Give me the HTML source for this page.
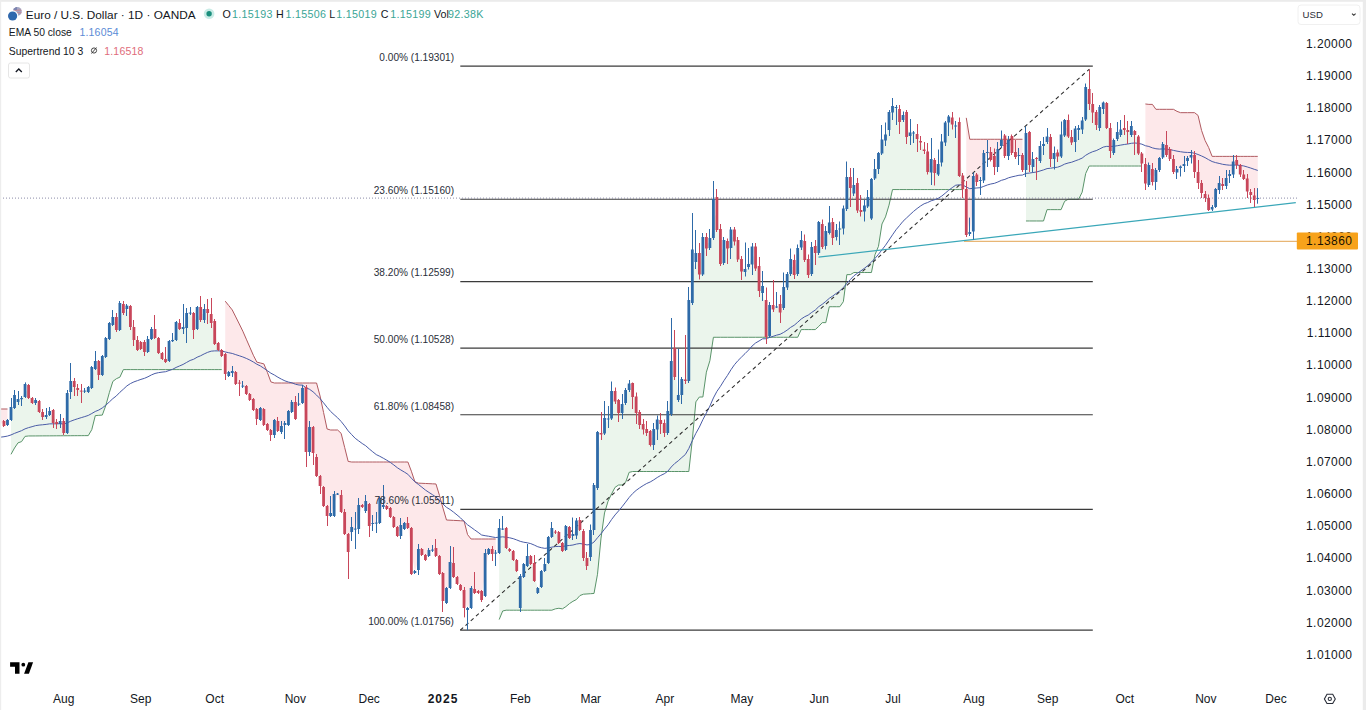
<!DOCTYPE html>
<html><head><meta charset="utf-8"><style>
html,body{margin:0;padding:0;background:#fff;width:1366px;height:710px;overflow:hidden}
svg{position:absolute;left:0;top:0;font-family:"Liberation Sans",sans-serif}
</style></head><body>
<svg width="1366" height="710" viewBox="0 0 1366 710">
<rect width="1366" height="710" fill="#fff"/>
<polygon points="0.47,409 3.98,409 7.49,409 7.49,422.5 3.98,423.5 0.47,423.5" fill="#fde8ea"/>
<polygon points="11.01,454.33 14.52,448.01 18.03,442.82 21.54,441.64 25.05,436.37 28.57,435.98 32.08,435.96 35.59,435.94 39.1,435.92 42.61,435.89 46.13,435.87 49.64,435.85 53.15,435.83 56.66,435.81 60.17,435.79 63.69,435.76 67.2,435.74 70.71,435.72 74.22,435.7 77.73,435.68 81.25,435.66 84.76,435.63 88.27,435.61 91.78,429.67 95.29,415.62 98.81,415.34 102.32,415.07 105.83,405.39 109.34,392.67 112.85,381.43 116.37,378.69 119.88,377.18 123.39,369.6 126.9,369.6 130.41,369.6 133.93,369.6 137.44,369.6 140.95,369.6 144.46,369.6 147.97,369.6 151.49,369.6 155,369.6 158.51,369.6 162.02,369.6 165.53,369.6 169.05,369.6 172.56,369.6 176.07,369.6 179.58,369.6 183.09,369.6 186.61,369.6 190.12,369.6 193.63,369.6 197.14,369.6 200.65,369.6 204.17,369.6 207.68,369.6 211.19,369.6 214.7,369.6 218.21,369.6 221.73,369.6 221.73,353 218.21,346.5 214.7,332.5 211.19,318.5 207.68,311 204.17,314.5 200.65,313.5 197.14,318 193.63,321.5 190.12,313.1 186.61,320.5 183.09,328 179.58,326 176.07,331 172.56,340.6 169.05,351 165.53,360.5 162.02,356 158.51,345.5 155,333.5 151.49,334 147.97,345.5 144.46,347 140.95,345.5 137.44,345 133.93,333.5 130.41,316.5 126.9,307.3 123.39,308.5 119.88,316.5 116.37,323.5 112.85,321 109.34,331 105.83,347.5 102.32,365.5 98.81,368 95.29,365 91.78,377.5 88.27,389.5 84.76,391 81.25,391 77.73,389 74.22,384 70.71,386.5 67.2,413 63.69,427 60.17,422.5 56.66,423 53.15,416.5 49.64,413 46.13,416 42.61,414.5 39.1,406.5 35.59,401.5 32.08,400.5 28.57,391.5 25.05,390.5 21.54,398.6 18.03,400.5 14.52,401.5 11.01,413.5" fill="#ebf5ec"/>
<polygon points="225.24,301.17 228.75,305.56 232.26,309.95 235.77,316.95 239.29,323.97 242.8,331.14 246.31,339.17 249.82,347.19 253.33,355.22 256.85,362.14 260.36,363.01 263.87,363.89 267.38,372.37 270.89,381.9 274.41,383 277.92,383 281.43,383 284.94,383 288.45,383 291.97,383 295.48,383 298.99,383 302.5,383 306.01,383 309.53,383 313.04,383 316.55,383 320.06,395.98 323.57,412.49 327.09,428.99 330.6,430 334.11,430 337.62,430 341.13,433.34 344.65,447.38 348.16,461.43 351.67,462 355.18,462 358.69,462 362.21,462 365.72,462 369.23,462 372.74,462 376.25,462 379.77,462 383.28,462 386.79,462 390.3,462 393.81,462 397.33,462 400.84,462 404.35,462 407.86,462 411.37,471.22 414.89,481.76 418.4,483.15 421.91,483.31 425.42,483.48 428.93,483.65 432.45,483.82 435.96,483.98 439.47,495.41 442.98,508.06 446.49,520.01 450.01,520.2 453.52,520.38 457.03,520.56 460.54,520.75 464.05,520.93 467.57,534.6 471.08,539 474.59,539 478.1,539 481.61,539 485.13,539 488.64,539 492.15,539 495.66,539 495.66,553.1 492.15,551.5 488.64,551.5 485.13,574.5 481.61,595.5 478.1,592 474.59,591 471.08,598 467.57,609 464.05,599 460.54,587.5 457.03,580.5 453.52,570 450.01,575 446.49,595.5 442.98,587 439.47,565 435.96,552 432.45,550.1 428.93,553 425.42,557.5 421.91,552 418.4,559.5 414.89,572 411.37,551 407.86,525.5 404.35,526 400.84,530.5 397.33,531.5 393.81,522 390.3,512.5 386.79,507.5 383.28,506 379.77,510.5 376.25,523.1 372.74,523.5 369.23,515 365.72,506 362.21,506 358.69,517 355.18,529.1 351.67,529.5 348.16,543 344.65,523 341.13,503.5 337.62,494.1 334.11,505 330.6,514.5 327.09,511 323.57,496.5 320.06,481 316.55,466.5 313.04,440 309.53,439.5 306.01,419.5 302.5,395.5 298.99,404.1 295.48,410.5 291.97,407 288.45,418 284.94,424 281.43,429 277.92,426 274.41,427.5 270.89,432.5 267.38,427 263.87,417 260.36,414 256.85,414 253.33,404.5 249.82,397 246.31,390 242.8,386 239.29,383 235.77,378 232.26,372 228.75,374 225.24,364" fill="#fde8ea"/>
<polygon points="499.17,619.57 502.69,610.97 506.2,610.2 509.71,610.2 513.22,610.2 516.73,610.2 520.25,610.2 523.76,610.2 527.27,610.2 530.78,610.2 534.29,610.2 537.81,610.2 541.32,610.2 544.83,610.2 548.34,610.2 551.85,610.2 555.37,608.85 558.88,608.27 562.39,608.88 565.9,606.62 569.41,603.65 572.93,601.32 576.44,599.53 579.95,595.56 583.46,594.21 586.97,593.96 590.49,593.71 594,593.45 597.51,574.23 601.02,538.1 604.53,512.94 608.05,501.22 611.56,493.94 615.07,487.32 618.58,485 622.09,485 625.61,482.36 629.12,472.36 632.63,471.5 636.14,471.5 639.65,471.5 643.17,471.5 646.68,471.5 650.19,471.5 653.7,471.5 657.21,471.5 660.73,471.5 664.24,471.5 667.75,471.5 671.26,471.5 674.77,471.5 678.29,471.5 681.8,471.5 685.31,471.5 688.82,471.5 692.33,439.63 695.85,401.88 699.36,397 702.87,397 706.38,372.15 709.89,360.68 713.41,337.27 716.92,337.27 720.43,337.27 723.94,337.27 727.45,337.27 730.97,337.27 734.48,337.27 737.99,337.27 741.5,337.27 745.01,337.27 748.53,337.27 752.04,337.27 755.55,337.27 759.06,337.27 762.57,337.27 766.09,337.27 769.6,337.27 773.11,337.27 776.62,337.27 780.13,337.27 783.65,337.27 787.16,337.27 790.67,337.27 794.18,337.27 797.69,337.27 801.21,329.58 804.72,329.58 808.23,329.58 811.74,329.58 815.25,329.58 818.77,326.36 822.28,322.63 825.79,322.63 829.3,306.73 832.81,306.73 836.33,306.73 839.84,306.73 843.35,301.7 846.86,274.63 850.37,274.63 853.89,272.52 857.4,272.52 860.91,272.52 864.42,272.52 867.93,272.52 871.45,272.52 874.96,254.75 878.47,246.33 881.98,223.99 885.49,216.9 889.01,205.18 892.52,189.56 896.03,189.56 899.54,189.56 903.05,189.56 906.57,189.56 910.08,189.56 913.59,189.56 917.1,189.56 920.61,189.56 924.13,189.56 927.64,189.56 931.15,189.56 934.66,189.56 938.17,189.56 941.69,189.56 945.2,189.56 948.71,189.56 952.22,189.56 955.73,189.56 959.25,189.56 962.76,189.56 962.76,182.4 959.25,149 955.73,126 952.22,121 948.71,119.5 945.2,132.5 941.69,152 938.17,169.25 934.66,166.5 931.15,165.75 927.64,161.75 924.13,150.25 920.61,141.75 917.1,136.5 913.59,133 910.08,134.25 906.57,124.5 903.05,117.5 899.54,115.5 896.03,107.5 892.52,109.25 889.01,121 885.49,137.5 881.98,146.5 878.47,161 874.96,173.75 871.45,198.75 867.93,201.75 864.42,208.5 860.91,211 857.4,196.75 853.89,189.25 850.37,182.5 846.86,193 843.35,218.5 839.84,229 836.33,233.5 832.81,230 829.3,227.75 825.79,238.5 822.28,235.5 818.77,237.5 815.25,249.5 811.74,260.5 808.23,267 804.72,250.5 801.21,243.75 797.69,261 794.18,267.5 790.67,266.5 787.16,280.75 783.65,297.5 780.13,308.25 776.62,307 773.11,307.25 769.6,320.5 766.09,318.5 762.57,289.5 759.06,278.5 755.55,257.5 752.04,255.5 748.53,265.5 745.01,270.5 741.5,265.25 737.99,249.75 734.48,235.5 730.97,238.75 727.45,244.75 723.94,251.5 720.43,246.5 716.92,213.5 713.41,218.5 709.89,243 706.38,242.75 702.87,255.75 699.36,263.75 695.85,257.5 692.33,276.25 688.82,340.5 685.31,380.25 681.8,387 678.29,397.5 674.77,362.5 671.26,387.5 667.75,422 664.24,428 660.73,422 657.21,424.5 653.7,437 650.19,438 646.68,431 643.17,426.75 639.65,418.5 636.14,404.75 632.63,390 629.12,386.75 625.61,396.5 622.09,408.5 618.58,406.5 615.07,396.25 611.56,404.75 608.05,419 604.53,425.75 601.02,433.75 597.51,460 594,507.5 590.49,543.5 586.97,562 583.46,544.5 579.95,525 576.44,528 572.93,535 569.41,532.5 565.9,538 562.39,547 558.88,537.5 555.37,532.1 551.85,532.5 548.34,550 544.83,567.5 541.32,579 537.81,590.5 534.29,572 530.78,560 527.27,561 523.76,570.5 520.25,592 516.73,565.5 513.22,555.5 509.71,550 506.2,538 502.69,529.1 499.17,540.5" fill="#ebf5ec"/>
<polygon points="966.27,117.87 969.78,139.27 973.29,139.27 976.81,139.27 980.32,139.27 983.83,139.27 987.34,139.27 990.85,139.27 994.37,139.27 997.88,139.27 1001.39,139.27 1004.9,139.27 1008.41,139.27 1011.93,139.27 1015.44,139.27 1018.95,139.27 1022.46,139.27 1022.46,162.5 1018.95,155.5 1015.44,154.5 1011.93,144.5 1008.41,148 1004.9,145.75 1001.39,143 997.88,158 994.37,161.5 990.85,156 987.34,152.5 983.83,166.75 980.32,180.5 976.81,178.25 973.29,203.75 969.78,233 966.27,212" fill="#fde8ea"/>
<polygon points="1025.97,220.98 1029.49,220.98 1033,220.98 1036.51,220.98 1040.02,220.98 1043.53,220.98 1047.05,209.63 1050.56,209.63 1054.07,209.63 1057.58,209.63 1061.09,209.63 1064.61,201.3 1068.12,199.27 1071.63,199.27 1075.14,199.27 1078.65,199.27 1082.17,192.15 1085.68,173.49 1089.19,166.02 1092.7,166.02 1096.21,166.02 1099.73,166.02 1103.24,166.02 1106.75,166.02 1110.26,166.02 1113.77,166.02 1117.29,166.02 1120.8,166.02 1124.31,166.02 1127.82,166.02 1131.33,166.02 1134.85,166.02 1138.36,166.02 1141.87,166.02 1141.87,158.5 1138.36,145 1134.85,133 1131.33,130.5 1127.82,131 1124.31,129 1120.8,132.25 1117.29,135.5 1113.77,146.5 1110.26,139.5 1106.75,115.5 1103.24,105.75 1099.73,117.5 1096.21,118.5 1092.7,108.25 1089.19,96.5 1085.68,103.25 1082.17,125 1078.65,129 1075.14,135.25 1071.63,139.75 1068.12,128.25 1064.61,127.75 1061.09,145.5 1057.58,154.5 1054.07,156 1050.56,148 1047.05,139.25 1043.53,145 1040.02,153.5 1036.51,158.5 1033,163 1029.49,148.5 1025.97,151.5" fill="#ebf5ec"/>
<polygon points="1145.38,103.97 1148.89,104.38 1152.41,104.38 1155.92,109.32 1159.43,109.32 1162.94,109.32 1166.45,109.32 1169.97,109.32 1173.48,109.32 1176.99,111.35 1180.5,112.66 1184.01,112.66 1187.53,112.66 1191.04,112.66 1194.55,112.66 1198.06,115.45 1201.57,130.45 1205.09,140.51 1208.6,147.41 1212.11,156.39 1215.62,156.39 1219.13,156.39 1222.65,156.39 1226.16,156.39 1229.67,156.39 1233.18,156.39 1236.69,156.39 1240.21,156.39 1243.72,156.39 1247.23,156.39 1250.74,156.39 1254.25,156.39 1257.77,156.39 1257.77,198.05 1254.25,197.75 1250.74,193.5 1247.23,185 1243.72,176.75 1240.21,169.75 1236.69,162.5 1233.18,168 1229.67,175 1226.16,182 1222.65,185 1219.13,186.5 1215.62,198 1212.11,208.25 1208.6,204 1205.09,196 1201.57,188 1198.06,177.5 1194.55,163.5 1191.04,156.25 1187.53,159.5 1184.01,165 1180.5,167.25 1176.99,170.75 1173.48,165.5 1169.97,154 1166.45,150 1162.94,150.75 1159.43,164 1155.92,176 1152.41,175.5 1148.89,175 1145.38,173.75" fill="#fde8ea"/>
<polyline points="0.47,409 3.98,409 7.49,409" fill="none" stroke="#b05a60" stroke-width="1"/>
<polyline points="11.01,454.33 14.52,448.01 18.03,442.82 21.54,441.64 25.05,436.37 28.57,435.98 32.08,435.96 35.59,435.94 39.1,435.92 42.61,435.89 46.13,435.87 49.64,435.85 53.15,435.83 56.66,435.81 60.17,435.79 63.69,435.76 67.2,435.74 70.71,435.72 74.22,435.7 77.73,435.68 81.25,435.66 84.76,435.63 88.27,435.61 91.78,429.67 95.29,415.62 98.81,415.34 102.32,415.07 105.83,405.39 109.34,392.67 112.85,381.43 116.37,378.69 119.88,377.18 123.39,369.6 126.9,369.6 130.41,369.6 133.93,369.6 137.44,369.6 140.95,369.6 144.46,369.6 147.97,369.6 151.49,369.6 155,369.6 158.51,369.6 162.02,369.6 165.53,369.6 169.05,369.6 172.56,369.6 176.07,369.6 179.58,369.6 183.09,369.6 186.61,369.6 190.12,369.6 193.63,369.6 197.14,369.6 200.65,369.6 204.17,369.6 207.68,369.6 211.19,369.6 214.7,369.6 218.21,369.6 221.73,369.6" fill="none" stroke="#5a946a" stroke-width="1"/>
<polyline points="225.24,301.17 228.75,305.56 232.26,309.95 235.77,316.95 239.29,323.97 242.8,331.14 246.31,339.17 249.82,347.19 253.33,355.22 256.85,362.14 260.36,363.01 263.87,363.89 267.38,372.37 270.89,381.9 274.41,383 277.92,383 281.43,383 284.94,383 288.45,383 291.97,383 295.48,383 298.99,383 302.5,383 306.01,383 309.53,383 313.04,383 316.55,383 320.06,395.98 323.57,412.49 327.09,428.99 330.6,430 334.11,430 337.62,430 341.13,433.34 344.65,447.38 348.16,461.43 351.67,462 355.18,462 358.69,462 362.21,462 365.72,462 369.23,462 372.74,462 376.25,462 379.77,462 383.28,462 386.79,462 390.3,462 393.81,462 397.33,462 400.84,462 404.35,462 407.86,462 411.37,471.22 414.89,481.76 418.4,483.15 421.91,483.31 425.42,483.48 428.93,483.65 432.45,483.82 435.96,483.98 439.47,495.41 442.98,508.06 446.49,520.01 450.01,520.2 453.52,520.38 457.03,520.56 460.54,520.75 464.05,520.93 467.57,534.6 471.08,539 474.59,539 478.1,539 481.61,539 485.13,539 488.64,539 492.15,539 495.66,539" fill="none" stroke="#b05a60" stroke-width="1"/>
<polyline points="499.17,619.57 502.69,610.97 506.2,610.2 509.71,610.2 513.22,610.2 516.73,610.2 520.25,610.2 523.76,610.2 527.27,610.2 530.78,610.2 534.29,610.2 537.81,610.2 541.32,610.2 544.83,610.2 548.34,610.2 551.85,610.2 555.37,608.85 558.88,608.27 562.39,608.88 565.9,606.62 569.41,603.65 572.93,601.32 576.44,599.53 579.95,595.56 583.46,594.21 586.97,593.96 590.49,593.71 594,593.45 597.51,574.23 601.02,538.1 604.53,512.94 608.05,501.22 611.56,493.94 615.07,487.32 618.58,485 622.09,485 625.61,482.36 629.12,472.36 632.63,471.5 636.14,471.5 639.65,471.5 643.17,471.5 646.68,471.5 650.19,471.5 653.7,471.5 657.21,471.5 660.73,471.5 664.24,471.5 667.75,471.5 671.26,471.5 674.77,471.5 678.29,471.5 681.8,471.5 685.31,471.5 688.82,471.5 692.33,439.63 695.85,401.88 699.36,397 702.87,397 706.38,372.15 709.89,360.68 713.41,337.27 716.92,337.27 720.43,337.27 723.94,337.27 727.45,337.27 730.97,337.27 734.48,337.27 737.99,337.27 741.5,337.27 745.01,337.27 748.53,337.27 752.04,337.27 755.55,337.27 759.06,337.27 762.57,337.27 766.09,337.27 769.6,337.27 773.11,337.27 776.62,337.27 780.13,337.27 783.65,337.27 787.16,337.27 790.67,337.27 794.18,337.27 797.69,337.27 801.21,329.58 804.72,329.58 808.23,329.58 811.74,329.58 815.25,329.58 818.77,326.36 822.28,322.63 825.79,322.63 829.3,306.73 832.81,306.73 836.33,306.73 839.84,306.73 843.35,301.7 846.86,274.63 850.37,274.63 853.89,272.52 857.4,272.52 860.91,272.52 864.42,272.52 867.93,272.52 871.45,272.52 874.96,254.75 878.47,246.33 881.98,223.99 885.49,216.9 889.01,205.18 892.52,189.56 896.03,189.56 899.54,189.56 903.05,189.56 906.57,189.56 910.08,189.56 913.59,189.56 917.1,189.56 920.61,189.56 924.13,189.56 927.64,189.56 931.15,189.56 934.66,189.56 938.17,189.56 941.69,189.56 945.2,189.56 948.71,189.56 952.22,189.56 955.73,189.56 959.25,189.56 962.76,189.56" fill="none" stroke="#5a946a" stroke-width="1"/>
<polyline points="966.27,117.87 969.78,139.27 973.29,139.27 976.81,139.27 980.32,139.27 983.83,139.27 987.34,139.27 990.85,139.27 994.37,139.27 997.88,139.27 1001.39,139.27 1004.9,139.27 1008.41,139.27 1011.93,139.27 1015.44,139.27 1018.95,139.27 1022.46,139.27" fill="none" stroke="#b05a60" stroke-width="1"/>
<polyline points="1025.97,220.98 1029.49,220.98 1033,220.98 1036.51,220.98 1040.02,220.98 1043.53,220.98 1047.05,209.63 1050.56,209.63 1054.07,209.63 1057.58,209.63 1061.09,209.63 1064.61,201.3 1068.12,199.27 1071.63,199.27 1075.14,199.27 1078.65,199.27 1082.17,192.15 1085.68,173.49 1089.19,166.02 1092.7,166.02 1096.21,166.02 1099.73,166.02 1103.24,166.02 1106.75,166.02 1110.26,166.02 1113.77,166.02 1117.29,166.02 1120.8,166.02 1124.31,166.02 1127.82,166.02 1131.33,166.02 1134.85,166.02 1138.36,166.02 1141.87,166.02" fill="none" stroke="#5a946a" stroke-width="1"/>
<polyline points="1145.38,103.97 1148.89,104.38 1152.41,104.38 1155.92,109.32 1159.43,109.32 1162.94,109.32 1166.45,109.32 1169.97,109.32 1173.48,109.32 1176.99,111.35 1180.5,112.66 1184.01,112.66 1187.53,112.66 1191.04,112.66 1194.55,112.66 1198.06,115.45 1201.57,130.45 1205.09,140.51 1208.6,147.41 1212.11,156.39 1215.62,156.39 1219.13,156.39 1222.65,156.39 1226.16,156.39 1229.67,156.39 1233.18,156.39 1236.69,156.39 1240.21,156.39 1243.72,156.39 1247.23,156.39 1250.74,156.39 1254.25,156.39 1257.77,156.39" fill="none" stroke="#b05a60" stroke-width="1"/>
<line x1="460.3" y1="66.12" x2="1092.8" y2="66.12" stroke="#3b3b3b" stroke-width="1.2"/>
<line x1="460.3" y1="199.26" x2="1092.8" y2="199.26" stroke="#3b3b3b" stroke-width="1.2"/>
<line x1="460.3" y1="281.59" x2="1092.8" y2="281.59" stroke="#3b3b3b" stroke-width="1.2"/>
<line x1="460.3" y1="348.17" x2="1092.8" y2="348.17" stroke="#3b3b3b" stroke-width="1.2"/>
<line x1="460.3" y1="414.73" x2="1092.8" y2="414.73" stroke="#3b3b3b" stroke-width="1.2"/>
<line x1="460.3" y1="509.47" x2="1092.8" y2="509.47" stroke="#3b3b3b" stroke-width="1.2"/>
<line x1="460.3" y1="630.19" x2="1092.8" y2="630.19" stroke="#3b3b3b" stroke-width="1.2"/>
<line x1="0" y1="198.1" x2="1297" y2="198.1" stroke="#8c8ca8" stroke-width="1" stroke-dasharray="1 2"/>
<polyline points="0.47,437.17 3.98,436.73 7.49,436.07 11.01,434.93 14.52,433.37 18.03,432.02 21.54,430.68 25.05,428.85 28.57,427.64 32.08,426.68 35.59,425.63 39.1,425.1 42.61,424.78 46.13,424.4 49.64,423.87 53.15,423.84 56.66,423.84 60.17,423.73 63.69,424.09 67.2,422.88 70.71,421.23 74.22,419.89 77.73,418.72 81.25,417.65 84.76,416.59 88.27,415.43 91.78,413.53 95.29,411.47 98.81,410.04 102.32,407.92 105.83,405.18 109.34,401.95 112.85,398.62 116.37,395.93 119.88,392.29 123.39,389.18 126.9,385.9 130.41,383.59 133.93,381.88 137.44,380.63 140.95,379.39 144.46,378.32 147.97,376.77 151.49,374.9 155,373.45 158.51,372.65 162.02,372.12 165.53,371.72 169.05,370.51 172.56,369.32 176.07,367.46 179.58,365.95 183.09,364.43 186.61,362.41 190.12,360.46 193.63,359.26 197.14,357.21 200.65,355.75 204.17,353.92 207.68,352.32 211.19,351.17 214.7,350.88 218.21,350.85 221.73,351.05 225.24,351.95 228.75,352.74 232.26,353.45 235.77,354.65 239.29,355.78 242.8,356.95 246.31,358.4 249.82,360.03 253.33,361.99 256.85,364.23 260.36,365.94 263.87,368.26 267.38,370.68 270.89,373.2 274.41,375.04 277.92,377.23 281.43,379.15 284.94,380.87 288.45,382.05 291.97,382.83 295.48,384.25 298.99,385.01 302.5,385.12 306.01,387.75 309.53,389.29 313.04,391.79 316.55,395.09 320.06,398.65 323.57,402.86 327.09,407.3 330.6,411.44 334.11,414.68 337.62,417.78 341.13,421.47 344.65,425.88 348.16,430.83 351.67,434.6 355.18,438.29 358.69,440.9 362.21,443.5 365.72,445.75 369.23,448.9 372.74,451.8 376.25,454.58 379.77,456.28 383.28,458.19 386.79,460.19 390.3,462.41 393.81,464.95 397.33,467.73 400.84,469.98 404.35,472.06 407.86,474.25 411.37,478.16 414.89,481.8 418.4,484.44 421.91,487.21 425.42,490.06 428.93,492.41 432.45,494.65 435.96,497.06 439.47,500.08 442.98,504.04 446.49,507.33 450.01,509.47 453.52,512.12 457.03,514.94 460.54,517.88 464.05,521.42 467.57,524.81 471.08,527.29 474.59,529.87 478.1,532.34 481.61,535 485.13,535.7 488.64,536.22 492.15,536.92 495.66,537.54 499.17,537.16 502.69,536.83 506.2,537.26 509.71,537.8 513.22,538.67 516.73,539.94 520.25,541.35 523.76,542.24 527.27,542.78 530.78,543.61 534.29,545.08 537.81,546.76 541.32,547.71 544.83,548.35 548.34,547.91 551.85,547.13 555.37,546.56 558.88,546.42 562.39,546.6 565.9,545.79 569.41,545.48 572.93,545.03 576.44,544.07 579.95,543.52 583.46,544.09 586.97,544.95 590.49,544.36 594,542.03 597.51,537.72 601.02,533.67 604.53,529.13 608.05,524.8 611.56,519.55 615.07,514.92 618.58,510.92 622.09,506.73 625.61,502.15 629.12,497.5 632.63,493.56 636.14,490.4 639.65,487.83 643.17,485.55 646.68,483.49 650.19,481.98 653.7,479.9 657.21,477.53 660.73,475.43 664.24,473.77 667.75,471.31 671.26,466.98 674.77,463.45 678.29,460.77 681.8,457.56 685.31,454.56 688.82,448.5 692.33,440.69 695.85,433.33 699.36,427.1 702.87,419.65 706.38,412.94 709.89,406.08 713.41,397.96 716.92,391.37 720.43,386.37 723.94,380.63 727.45,375.45 730.97,369.73 734.48,364.7 737.99,360.58 741.5,357.08 745.01,353.63 748.53,350.11 752.04,346.05 755.55,343.01 759.06,340.97 762.57,338.81 766.09,338.74 769.6,337.42 773.11,336.32 776.62,335.15 780.13,334.27 783.65,332.41 787.16,330.12 790.67,327.33 794.18,325.28 797.69,322.25 801.21,319.02 804.72,316.71 808.23,315.07 811.74,312.4 815.25,310.07 818.77,306.62 822.28,304.28 825.79,301.41 829.3,298.31 832.81,295.95 836.33,293.36 839.84,290.82 843.35,287.59 846.86,283.25 850.37,279.52 853.89,275.81 857.4,273.25 860.91,270.85 864.42,268.29 867.93,265.49 871.45,262.1 874.96,258.45 878.47,254.31 881.98,249.81 885.49,245.29 889.01,240.06 892.52,234.8 896.03,229.79 899.54,225.56 903.05,221.23 906.57,217.93 910.08,214.58 913.59,211.36 917.1,208.52 920.61,205.93 924.13,203.78 927.64,202.53 931.15,200.82 934.66,199.73 938.17,198.33 941.69,196.1 945.2,193.22 948.71,190.21 952.22,187.63 955.73,185.19 959.25,184.83 962.76,185.01 966.27,186.97 969.78,188.74 973.29,188.24 976.81,187.99 980.32,187.68 983.83,186.32 987.34,184.97 990.85,183.99 994.37,183.33 997.88,181.98 1001.39,180.33 1004.9,179.38 1008.41,177.84 1011.93,176.86 1015.44,176.08 1018.95,175.26 1022.46,175.05 1025.97,173.4 1029.49,173.07 1033,172.52 1036.51,171.99 1040.02,170.97 1043.53,169.91 1047.05,168.6 1050.56,168.23 1054.07,167.63 1057.58,167.19 1061.09,165.91 1064.61,164.11 1068.12,163.03 1071.63,162.22 1075.14,160.9 1078.65,159.61 1082.17,158.08 1085.68,155.29 1089.19,153.28 1092.7,151.68 1096.21,150.63 1099.73,148.92 1103.24,147.1 1106.75,146.35 1110.26,146.53 1113.77,146.28 1117.29,145.72 1120.8,145.08 1124.31,144.49 1127.82,144 1131.33,143.29 1134.85,142.97 1138.36,143.38 1141.87,144.17 1145.38,145.71 1148.89,146.47 1152.41,147.86 1155.92,148.73 1159.43,149.09 1162.94,148.89 1166.45,149.13 1169.97,149.52 1173.48,150.4 1176.99,151.13 1180.5,151.73 1184.01,152.22 1187.53,152.44 1191.04,152.54 1194.55,153.31 1198.06,154.47 1201.57,155.98 1205.09,157.63 1208.6,159.68 1212.11,161.54 1215.62,162.62 1219.13,163.41 1222.65,164.3 1226.16,164.84 1229.67,165.2 1233.18,165.05 1236.69,165.05 1240.21,165.42 1243.72,165.95 1247.23,166.95 1250.74,168.05 1254.25,169.31 1257.77,170.43" fill="none" stroke="#4a5ca6" stroke-width="1"/>
<line x1="964" y1="241.3" x2="1297" y2="241.3" stroke="#e3a453" stroke-width="1"/>
<line x1="818.5" y1="257.2" x2="1295.8" y2="202.6" stroke="#3aa7b8" stroke-width="1.2"/>
<line x1="460.3" y1="630.2" x2="1089.4" y2="69.1" stroke="#2a2a2a" stroke-width="1.05" stroke-dasharray="3.8 3.2"/>
<line x1="3.5" y1="420" x2="3.5" y2="427" stroke="#c8465a" stroke-width="1"/>
<rect x="2.58" y="421" width="2.8" height="5" fill="#c8465a"/>
<line x1="7.5" y1="419" x2="7.5" y2="426" stroke="#2e6aa8" stroke-width="1"/>
<rect x="6.09" y="420" width="2.8" height="5" fill="#2e6aa8"/>
<line x1="11.5" y1="398" x2="11.5" y2="421" stroke="#2e6aa8" stroke-width="1"/>
<rect x="9.61" y="407" width="2.8" height="13" fill="#2e6aa8"/>
<line x1="14.5" y1="390" x2="14.5" y2="409" stroke="#2e6aa8" stroke-width="1"/>
<rect x="13.12" y="395" width="2.8" height="13" fill="#2e6aa8"/>
<line x1="18.5" y1="391" x2="18.5" y2="405" stroke="#2e6aa8" stroke-width="1"/>
<rect x="16.63" y="399" width="2.8" height="3" fill="#2e6aa8"/>
<line x1="21.5" y1="396" x2="21.5" y2="406" stroke="#2e6aa8" stroke-width="1"/>
<rect x="20.14" y="398" width="2.8" height="1.2" fill="#2e6aa8"/>
<line x1="25.5" y1="382.4" x2="25.5" y2="398" stroke="#2e6aa8" stroke-width="1"/>
<rect x="23.65" y="384" width="2.8" height="13" fill="#2e6aa8"/>
<line x1="28.5" y1="384" x2="28.5" y2="399" stroke="#c8465a" stroke-width="1"/>
<rect x="27.17" y="385" width="2.8" height="13" fill="#c8465a"/>
<line x1="32.5" y1="397" x2="32.5" y2="404" stroke="#c8465a" stroke-width="1"/>
<rect x="30.68" y="398" width="2.8" height="5" fill="#c8465a"/>
<line x1="35.5" y1="398" x2="35.5" y2="405" stroke="#2e6aa8" stroke-width="1"/>
<rect x="34.19" y="400" width="2.8" height="3" fill="#2e6aa8"/>
<line x1="39.5" y1="400" x2="39.5" y2="413" stroke="#c8465a" stroke-width="1"/>
<rect x="37.7" y="401" width="2.8" height="11" fill="#c8465a"/>
<line x1="42.5" y1="409" x2="42.5" y2="420" stroke="#c8465a" stroke-width="1"/>
<rect x="41.21" y="412" width="2.8" height="5" fill="#c8465a"/>
<line x1="46.5" y1="408" x2="46.5" y2="419" stroke="#2e6aa8" stroke-width="1"/>
<rect x="44.73" y="415" width="2.8" height="2" fill="#2e6aa8"/>
<line x1="49.5" y1="407" x2="49.5" y2="416" stroke="#2e6aa8" stroke-width="1"/>
<rect x="48.24" y="411" width="2.8" height="4" fill="#2e6aa8"/>
<line x1="53.5" y1="409" x2="53.5" y2="428" stroke="#c8465a" stroke-width="1"/>
<rect x="51.75" y="410" width="2.8" height="13" fill="#c8465a"/>
<line x1="56.5" y1="419" x2="56.5" y2="429" stroke="#c8465a" stroke-width="1"/>
<rect x="55.26" y="422" width="2.8" height="2" fill="#c8465a"/>
<line x1="60.5" y1="414" x2="60.5" y2="428" stroke="#2e6aa8" stroke-width="1"/>
<rect x="58.77" y="421" width="2.8" height="3" fill="#2e6aa8"/>
<line x1="63.5" y1="418" x2="63.5" y2="435" stroke="#c8465a" stroke-width="1"/>
<rect x="62.29" y="421" width="2.8" height="12" fill="#c8465a"/>
<line x1="67.5" y1="390" x2="67.5" y2="434" stroke="#2e6aa8" stroke-width="1"/>
<rect x="65.8" y="393" width="2.8" height="40" fill="#2e6aa8"/>
<line x1="70.5" y1="363" x2="70.5" y2="399" stroke="#2e6aa8" stroke-width="1"/>
<rect x="69.31" y="381" width="2.8" height="11" fill="#2e6aa8"/>
<line x1="74.5" y1="378" x2="74.5" y2="396" stroke="#c8465a" stroke-width="1"/>
<rect x="72.82" y="381" width="2.8" height="6" fill="#c8465a"/>
<line x1="77.5" y1="384" x2="77.5" y2="396" stroke="#c8465a" stroke-width="1"/>
<rect x="76.33" y="388" width="2.8" height="2" fill="#c8465a"/>
<line x1="81.5" y1="384" x2="81.5" y2="403" stroke="#c8465a" stroke-width="1"/>
<rect x="79.85" y="390.6" width="2.8" height="1" fill="#c8465a"/>
<line x1="84.5" y1="388" x2="84.5" y2="393" stroke="#2e6aa8" stroke-width="1"/>
<rect x="83.36" y="390.6" width="2.8" height="1" fill="#2e6aa8"/>
<line x1="88.5" y1="386" x2="88.5" y2="393" stroke="#2e6aa8" stroke-width="1"/>
<rect x="86.87" y="387" width="2.8" height="5" fill="#2e6aa8"/>
<line x1="91.5" y1="366" x2="91.5" y2="389" stroke="#2e6aa8" stroke-width="1"/>
<rect x="90.38" y="367" width="2.8" height="21" fill="#2e6aa8"/>
<line x1="95.5" y1="351" x2="95.5" y2="370" stroke="#2e6aa8" stroke-width="1"/>
<rect x="93.89" y="361" width="2.8" height="8" fill="#2e6aa8"/>
<line x1="98.5" y1="360" x2="98.5" y2="380" stroke="#c8465a" stroke-width="1"/>
<rect x="97.41" y="361" width="2.8" height="14" fill="#c8465a"/>
<line x1="102.5" y1="355" x2="102.5" y2="376" stroke="#2e6aa8" stroke-width="1"/>
<rect x="100.92" y="356" width="2.8" height="19" fill="#2e6aa8"/>
<line x1="105.5" y1="337" x2="105.5" y2="358" stroke="#2e6aa8" stroke-width="1"/>
<rect x="104.43" y="338" width="2.8" height="19" fill="#2e6aa8"/>
<line x1="109.5" y1="322" x2="109.5" y2="340" stroke="#2e6aa8" stroke-width="1"/>
<rect x="107.94" y="323" width="2.8" height="16" fill="#2e6aa8"/>
<line x1="112.5" y1="310" x2="112.5" y2="326" stroke="#2e6aa8" stroke-width="1"/>
<rect x="111.45" y="317" width="2.8" height="8" fill="#2e6aa8"/>
<line x1="116.5" y1="313" x2="116.5" y2="332" stroke="#c8465a" stroke-width="1"/>
<rect x="114.97" y="317" width="2.8" height="13" fill="#c8465a"/>
<line x1="119.5" y1="301" x2="119.5" y2="331" stroke="#2e6aa8" stroke-width="1"/>
<rect x="118.48" y="303" width="2.8" height="27" fill="#2e6aa8"/>
<line x1="123.5" y1="301" x2="123.5" y2="315" stroke="#c8465a" stroke-width="1"/>
<rect x="121.99" y="304" width="2.8" height="9" fill="#c8465a"/>
<line x1="126.5" y1="304" x2="126.5" y2="316" stroke="#2e6aa8" stroke-width="1"/>
<rect x="125.5" y="305.6" width="2.8" height="3.4" fill="#2e6aa8"/>
<line x1="130.5" y1="305" x2="130.5" y2="330" stroke="#c8465a" stroke-width="1"/>
<rect x="129.01" y="306" width="2.8" height="21" fill="#c8465a"/>
<line x1="133.5" y1="320" x2="133.5" y2="346" stroke="#c8465a" stroke-width="1"/>
<rect x="132.53" y="327" width="2.8" height="13" fill="#c8465a"/>
<line x1="137.5" y1="336" x2="137.5" y2="351" stroke="#c8465a" stroke-width="1"/>
<rect x="136.04" y="340" width="2.8" height="10" fill="#c8465a"/>
<line x1="140.5" y1="341" x2="140.5" y2="350" stroke="#c8465a" stroke-width="1"/>
<rect x="139.55" y="342" width="2.8" height="7" fill="#c8465a"/>
<line x1="144.5" y1="340" x2="144.5" y2="356" stroke="#c8465a" stroke-width="1"/>
<rect x="143.06" y="342" width="2.8" height="10" fill="#c8465a"/>
<line x1="147.5" y1="336" x2="147.5" y2="353" stroke="#2e6aa8" stroke-width="1"/>
<rect x="146.57" y="339" width="2.8" height="13" fill="#2e6aa8"/>
<line x1="151.5" y1="327" x2="151.5" y2="340" stroke="#2e6aa8" stroke-width="1"/>
<rect x="150.09" y="329" width="2.8" height="10" fill="#2e6aa8"/>
<line x1="154.5" y1="315" x2="154.5" y2="339" stroke="#c8465a" stroke-width="1"/>
<rect x="153.6" y="329" width="2.8" height="9" fill="#c8465a"/>
<line x1="158.5" y1="337" x2="158.5" y2="354" stroke="#c8465a" stroke-width="1"/>
<rect x="157.11" y="338" width="2.8" height="15" fill="#c8465a"/>
<line x1="162.5" y1="352" x2="162.5" y2="360" stroke="#c8465a" stroke-width="1"/>
<rect x="160.62" y="353" width="2.8" height="6" fill="#c8465a"/>
<line x1="165.5" y1="347" x2="165.5" y2="363" stroke="#c8465a" stroke-width="1"/>
<rect x="164.13" y="359" width="2.8" height="3" fill="#c8465a"/>
<line x1="169.5" y1="340" x2="169.5" y2="362" stroke="#2e6aa8" stroke-width="1"/>
<rect x="167.65" y="341" width="2.8" height="20" fill="#2e6aa8"/>
<line x1="172.5" y1="333" x2="172.5" y2="342" stroke="#2e6aa8" stroke-width="1"/>
<rect x="171.16" y="340" width="2.8" height="1.2" fill="#2e6aa8"/>
<line x1="176.5" y1="321" x2="176.5" y2="341" stroke="#2e6aa8" stroke-width="1"/>
<rect x="174.67" y="322" width="2.8" height="18" fill="#2e6aa8"/>
<line x1="179.5" y1="319" x2="179.5" y2="330" stroke="#c8465a" stroke-width="1"/>
<rect x="178.18" y="323" width="2.8" height="6" fill="#c8465a"/>
<line x1="183.5" y1="304" x2="183.5" y2="334" stroke="#2e6aa8" stroke-width="1"/>
<rect x="181.69" y="327" width="2.8" height="2" fill="#2e6aa8"/>
<line x1="186.5" y1="308" x2="186.5" y2="343" stroke="#2e6aa8" stroke-width="1"/>
<rect x="185.21" y="313" width="2.8" height="15" fill="#2e6aa8"/>
<line x1="190.5" y1="307" x2="190.5" y2="315" stroke="#2e6aa8" stroke-width="1"/>
<rect x="188.72" y="312.6" width="2.8" height="1" fill="#2e6aa8"/>
<line x1="193.5" y1="312" x2="193.5" y2="339" stroke="#c8465a" stroke-width="1"/>
<rect x="192.23" y="313" width="2.8" height="17" fill="#c8465a"/>
<line x1="197.5" y1="306" x2="197.5" y2="330" stroke="#2e6aa8" stroke-width="1"/>
<rect x="195.74" y="307" width="2.8" height="22" fill="#2e6aa8"/>
<line x1="200.5" y1="296" x2="200.5" y2="322" stroke="#c8465a" stroke-width="1"/>
<rect x="199.25" y="307" width="2.8" height="13" fill="#c8465a"/>
<line x1="204.5" y1="304" x2="204.5" y2="323" stroke="#2e6aa8" stroke-width="1"/>
<rect x="202.77" y="309" width="2.8" height="11" fill="#2e6aa8"/>
<line x1="207.5" y1="299" x2="207.5" y2="324" stroke="#c8465a" stroke-width="1"/>
<rect x="206.28" y="309" width="2.8" height="4" fill="#c8465a"/>
<line x1="211.5" y1="298" x2="211.5" y2="328" stroke="#c8465a" stroke-width="1"/>
<rect x="209.79" y="314" width="2.8" height="9" fill="#c8465a"/>
<line x1="214.5" y1="319" x2="214.5" y2="345" stroke="#c8465a" stroke-width="1"/>
<rect x="213.3" y="321" width="2.8" height="23" fill="#c8465a"/>
<line x1="218.5" y1="342" x2="218.5" y2="351" stroke="#c8465a" stroke-width="1"/>
<rect x="216.81" y="343" width="2.8" height="7" fill="#c8465a"/>
<line x1="221.5" y1="349" x2="221.5" y2="357" stroke="#c8465a" stroke-width="1"/>
<rect x="220.33" y="350" width="2.8" height="6" fill="#c8465a"/>
<line x1="225.5" y1="353" x2="225.5" y2="380" stroke="#c8465a" stroke-width="1"/>
<rect x="223.84" y="354" width="2.8" height="20" fill="#c8465a"/>
<line x1="228.5" y1="371" x2="228.5" y2="377" stroke="#2e6aa8" stroke-width="1"/>
<rect x="227.35" y="372" width="2.8" height="4" fill="#2e6aa8"/>
<line x1="232.5" y1="366" x2="232.5" y2="377" stroke="#2e6aa8" stroke-width="1"/>
<rect x="230.86" y="371" width="2.8" height="2" fill="#2e6aa8"/>
<line x1="235.5" y1="371" x2="235.5" y2="385" stroke="#c8465a" stroke-width="1"/>
<rect x="234.37" y="372" width="2.8" height="12" fill="#c8465a"/>
<line x1="239.5" y1="380" x2="239.5" y2="396" stroke="#c8465a" stroke-width="1"/>
<rect x="237.89" y="382.6" width="2.8" height="1" fill="#c8465a"/>
<line x1="242.5" y1="381" x2="242.5" y2="388" stroke="#2e6aa8" stroke-width="1"/>
<rect x="241.4" y="385.6" width="2.8" height="1" fill="#2e6aa8"/>
<line x1="246.5" y1="385" x2="246.5" y2="395" stroke="#c8465a" stroke-width="1"/>
<rect x="244.91" y="386" width="2.8" height="8" fill="#c8465a"/>
<line x1="249.5" y1="393" x2="249.5" y2="401" stroke="#c8465a" stroke-width="1"/>
<rect x="248.42" y="394" width="2.8" height="6" fill="#c8465a"/>
<line x1="253.5" y1="398" x2="253.5" y2="411" stroke="#c8465a" stroke-width="1"/>
<rect x="251.93" y="399" width="2.8" height="11" fill="#c8465a"/>
<line x1="256.5" y1="408" x2="256.5" y2="425" stroke="#c8465a" stroke-width="1"/>
<rect x="255.45" y="409" width="2.8" height="10" fill="#c8465a"/>
<line x1="260.5" y1="407" x2="260.5" y2="421" stroke="#2e6aa8" stroke-width="1"/>
<rect x="258.96" y="408" width="2.8" height="12" fill="#2e6aa8"/>
<line x1="263.5" y1="408" x2="263.5" y2="426" stroke="#c8465a" stroke-width="1"/>
<rect x="262.47" y="409" width="2.8" height="16" fill="#c8465a"/>
<line x1="267.5" y1="423" x2="267.5" y2="431" stroke="#c8465a" stroke-width="1"/>
<rect x="265.98" y="424" width="2.8" height="6" fill="#c8465a"/>
<line x1="270.5" y1="429" x2="270.5" y2="441" stroke="#c8465a" stroke-width="1"/>
<rect x="269.49" y="430" width="2.8" height="5" fill="#c8465a"/>
<line x1="274.5" y1="419" x2="274.5" y2="438" stroke="#2e6aa8" stroke-width="1"/>
<rect x="273.01" y="420" width="2.8" height="15" fill="#2e6aa8"/>
<line x1="277.5" y1="417" x2="277.5" y2="432" stroke="#c8465a" stroke-width="1"/>
<rect x="276.52" y="421" width="2.8" height="10" fill="#c8465a"/>
<line x1="281.5" y1="421" x2="281.5" y2="434" stroke="#2e6aa8" stroke-width="1"/>
<rect x="280.03" y="426" width="2.8" height="6" fill="#2e6aa8"/>
<line x1="284.5" y1="421" x2="284.5" y2="439" stroke="#2e6aa8" stroke-width="1"/>
<rect x="283.54" y="423" width="2.8" height="2" fill="#2e6aa8"/>
<line x1="288.5" y1="410" x2="288.5" y2="426" stroke="#2e6aa8" stroke-width="1"/>
<rect x="287.05" y="411" width="2.8" height="14" fill="#2e6aa8"/>
<line x1="291.5" y1="400" x2="291.5" y2="413" stroke="#2e6aa8" stroke-width="1"/>
<rect x="290.57" y="402" width="2.8" height="10" fill="#2e6aa8"/>
<line x1="295.5" y1="396" x2="295.5" y2="420" stroke="#c8465a" stroke-width="1"/>
<rect x="294.08" y="402" width="2.8" height="17" fill="#c8465a"/>
<line x1="298.5" y1="393" x2="298.5" y2="406" stroke="#2e6aa8" stroke-width="1"/>
<rect x="297.59" y="403.6" width="2.8" height="1" fill="#2e6aa8"/>
<line x1="302.5" y1="385" x2="302.5" y2="404" stroke="#2e6aa8" stroke-width="1"/>
<rect x="301.1" y="388" width="2.8" height="15" fill="#2e6aa8"/>
<line x1="306.5" y1="385" x2="306.5" y2="467" stroke="#c8465a" stroke-width="1"/>
<rect x="304.61" y="387" width="2.8" height="65" fill="#c8465a"/>
<line x1="309.5" y1="421" x2="309.5" y2="456" stroke="#2e6aa8" stroke-width="1"/>
<rect x="308.13" y="427" width="2.8" height="25" fill="#2e6aa8"/>
<line x1="313.5" y1="426" x2="313.5" y2="465" stroke="#c8465a" stroke-width="1"/>
<rect x="311.64" y="427" width="2.8" height="26" fill="#c8465a"/>
<line x1="316.5" y1="454" x2="316.5" y2="477" stroke="#c8465a" stroke-width="1"/>
<rect x="315.15" y="457" width="2.8" height="19" fill="#c8465a"/>
<line x1="320.5" y1="475" x2="320.5" y2="494" stroke="#c8465a" stroke-width="1"/>
<rect x="318.66" y="476" width="2.8" height="10" fill="#c8465a"/>
<line x1="323.5" y1="486" x2="323.5" y2="507" stroke="#c8465a" stroke-width="1"/>
<rect x="322.17" y="487" width="2.8" height="19" fill="#c8465a"/>
<line x1="327.5" y1="505" x2="327.5" y2="526" stroke="#c8465a" stroke-width="1"/>
<rect x="325.69" y="506" width="2.8" height="10" fill="#c8465a"/>
<line x1="330.5" y1="496" x2="330.5" y2="517" stroke="#2e6aa8" stroke-width="1"/>
<rect x="329.2" y="513" width="2.8" height="3" fill="#2e6aa8"/>
<line x1="334.5" y1="491" x2="334.5" y2="517" stroke="#2e6aa8" stroke-width="1"/>
<rect x="332.71" y="494" width="2.8" height="22" fill="#2e6aa8"/>
<line x1="337.5" y1="493" x2="337.5" y2="495" stroke="#2e6aa8" stroke-width="1"/>
<rect x="336.22" y="493.6" width="2.8" height="1" fill="#2e6aa8"/>
<line x1="341.5" y1="490" x2="341.5" y2="513" stroke="#c8465a" stroke-width="1"/>
<rect x="339.73" y="495" width="2.8" height="17" fill="#c8465a"/>
<line x1="344.5" y1="509" x2="344.5" y2="535" stroke="#c8465a" stroke-width="1"/>
<rect x="343.25" y="512" width="2.8" height="22" fill="#c8465a"/>
<line x1="348.5" y1="533" x2="348.5" y2="579" stroke="#c8465a" stroke-width="1"/>
<rect x="346.76" y="534" width="2.8" height="18" fill="#c8465a"/>
<line x1="351.5" y1="517" x2="351.5" y2="541" stroke="#2e6aa8" stroke-width="1"/>
<rect x="350.27" y="527" width="2.8" height="5" fill="#2e6aa8"/>
<line x1="355.5" y1="512" x2="355.5" y2="549" stroke="#2e6aa8" stroke-width="1"/>
<rect x="353.78" y="528.6" width="2.8" height="1" fill="#2e6aa8"/>
<line x1="358.5" y1="498" x2="358.5" y2="534" stroke="#2e6aa8" stroke-width="1"/>
<rect x="357.29" y="505" width="2.8" height="24" fill="#2e6aa8"/>
<line x1="362.5" y1="504" x2="362.5" y2="508" stroke="#c8465a" stroke-width="1"/>
<rect x="360.81" y="505" width="2.8" height="2" fill="#c8465a"/>
<line x1="365.5" y1="495" x2="365.5" y2="513" stroke="#2e6aa8" stroke-width="1"/>
<rect x="364.32" y="501" width="2.8" height="10" fill="#2e6aa8"/>
<line x1="369.5" y1="503" x2="369.5" y2="537" stroke="#c8465a" stroke-width="1"/>
<rect x="367.83" y="504" width="2.8" height="22" fill="#c8465a"/>
<line x1="372.5" y1="515" x2="372.5" y2="531" stroke="#2e6aa8" stroke-width="1"/>
<rect x="371.34" y="523" width="2.8" height="1" fill="#2e6aa8"/>
<line x1="376.5" y1="512" x2="376.5" y2="533" stroke="#2e6aa8" stroke-width="1"/>
<rect x="374.85" y="522.6" width="2.8" height="1" fill="#2e6aa8"/>
<line x1="379.5" y1="497" x2="379.5" y2="524" stroke="#2e6aa8" stroke-width="1"/>
<rect x="378.37" y="498" width="2.8" height="25" fill="#2e6aa8"/>
<line x1="383.5" y1="485" x2="383.5" y2="509" stroke="#2e6aa8" stroke-width="1"/>
<rect x="381.88" y="505" width="2.8" height="2" fill="#2e6aa8"/>
<line x1="386.5" y1="505" x2="386.5" y2="510" stroke="#c8465a" stroke-width="1"/>
<rect x="385.39" y="506" width="2.8" height="3" fill="#c8465a"/>
<line x1="390.5" y1="507" x2="390.5" y2="518" stroke="#c8465a" stroke-width="1"/>
<rect x="388.9" y="508" width="2.8" height="9" fill="#c8465a"/>
<line x1="393.5" y1="516" x2="393.5" y2="528" stroke="#c8465a" stroke-width="1"/>
<rect x="392.41" y="517" width="2.8" height="10" fill="#c8465a"/>
<line x1="397.5" y1="526" x2="397.5" y2="537" stroke="#c8465a" stroke-width="1"/>
<rect x="395.93" y="527" width="2.8" height="9" fill="#c8465a"/>
<line x1="400.5" y1="518" x2="400.5" y2="539" stroke="#2e6aa8" stroke-width="1"/>
<rect x="399.44" y="525" width="2.8" height="11" fill="#2e6aa8"/>
<line x1="404.5" y1="522" x2="404.5" y2="530" stroke="#2e6aa8" stroke-width="1"/>
<rect x="402.95" y="523" width="2.8" height="6" fill="#2e6aa8"/>
<line x1="407.5" y1="517" x2="407.5" y2="529" stroke="#c8465a" stroke-width="1"/>
<rect x="406.46" y="523" width="2.8" height="5" fill="#c8465a"/>
<line x1="411.5" y1="527" x2="411.5" y2="575" stroke="#c8465a" stroke-width="1"/>
<rect x="409.97" y="528" width="2.8" height="46" fill="#c8465a"/>
<line x1="414.5" y1="570" x2="414.5" y2="574" stroke="#2e6aa8" stroke-width="1"/>
<rect x="413.49" y="571" width="2.8" height="2" fill="#2e6aa8"/>
<line x1="418.5" y1="544" x2="418.5" y2="575" stroke="#2e6aa8" stroke-width="1"/>
<rect x="417" y="549" width="2.8" height="21" fill="#2e6aa8"/>
<line x1="421.5" y1="548" x2="421.5" y2="556" stroke="#c8465a" stroke-width="1"/>
<rect x="420.51" y="549" width="2.8" height="6" fill="#c8465a"/>
<line x1="425.5" y1="554" x2="425.5" y2="561" stroke="#c8465a" stroke-width="1"/>
<rect x="424.02" y="555" width="2.8" height="5" fill="#c8465a"/>
<line x1="428.5" y1="548" x2="428.5" y2="557" stroke="#2e6aa8" stroke-width="1"/>
<rect x="427.53" y="550" width="2.8" height="6" fill="#2e6aa8"/>
<line x1="432.5" y1="545" x2="432.5" y2="552" stroke="#2e6aa8" stroke-width="1"/>
<rect x="431.05" y="549.6" width="2.8" height="1" fill="#2e6aa8"/>
<line x1="435.5" y1="539" x2="435.5" y2="557" stroke="#c8465a" stroke-width="1"/>
<rect x="434.56" y="548" width="2.8" height="8" fill="#c8465a"/>
<line x1="439.5" y1="555" x2="439.5" y2="575" stroke="#c8465a" stroke-width="1"/>
<rect x="438.07" y="556" width="2.8" height="18" fill="#c8465a"/>
<line x1="442.5" y1="572" x2="442.5" y2="612" stroke="#c8465a" stroke-width="1"/>
<rect x="441.58" y="573" width="2.8" height="28" fill="#c8465a"/>
<line x1="446.5" y1="587" x2="446.5" y2="604" stroke="#2e6aa8" stroke-width="1"/>
<rect x="445.09" y="588" width="2.8" height="15" fill="#2e6aa8"/>
<line x1="450.5" y1="546" x2="450.5" y2="589" stroke="#2e6aa8" stroke-width="1"/>
<rect x="448.61" y="562" width="2.8" height="26" fill="#2e6aa8"/>
<line x1="453.5" y1="547" x2="453.5" y2="578" stroke="#c8465a" stroke-width="1"/>
<rect x="452.12" y="563" width="2.8" height="14" fill="#c8465a"/>
<line x1="457.5" y1="576" x2="457.5" y2="585" stroke="#c8465a" stroke-width="1"/>
<rect x="455.63" y="577" width="2.8" height="7" fill="#c8465a"/>
<line x1="460.5" y1="584" x2="460.5" y2="591" stroke="#c8465a" stroke-width="1"/>
<rect x="459.14" y="585" width="2.8" height="5" fill="#c8465a"/>
<line x1="464.5" y1="587" x2="464.5" y2="617.4" stroke="#c8465a" stroke-width="1"/>
<rect x="462.65" y="590" width="2.8" height="18" fill="#c8465a"/>
<line x1="467.5" y1="607" x2="467.5" y2="630.2" stroke="#2e6aa8" stroke-width="1"/>
<rect x="466.17" y="608" width="2.8" height="2" fill="#2e6aa8"/>
<line x1="471.5" y1="586" x2="471.5" y2="609" stroke="#2e6aa8" stroke-width="1"/>
<rect x="469.68" y="588" width="2.8" height="20" fill="#2e6aa8"/>
<line x1="474.5" y1="572" x2="474.5" y2="594" stroke="#c8465a" stroke-width="1"/>
<rect x="473.19" y="589" width="2.8" height="4" fill="#c8465a"/>
<line x1="478.5" y1="590" x2="478.5" y2="594" stroke="#c8465a" stroke-width="1"/>
<rect x="476.7" y="591" width="2.8" height="2" fill="#c8465a"/>
<line x1="481.5" y1="590" x2="481.5" y2="602" stroke="#c8465a" stroke-width="1"/>
<rect x="480.21" y="591" width="2.8" height="9" fill="#c8465a"/>
<line x1="485.5" y1="549" x2="485.5" y2="597" stroke="#2e6aa8" stroke-width="1"/>
<rect x="483.73" y="553" width="2.8" height="43" fill="#2e6aa8"/>
<line x1="488.5" y1="548" x2="488.5" y2="555" stroke="#2e6aa8" stroke-width="1"/>
<rect x="487.24" y="549" width="2.8" height="5" fill="#2e6aa8"/>
<line x1="492.5" y1="546" x2="492.5" y2="561" stroke="#c8465a" stroke-width="1"/>
<rect x="490.75" y="549" width="2.8" height="5" fill="#c8465a"/>
<line x1="495.5" y1="550" x2="495.5" y2="566" stroke="#2e6aa8" stroke-width="1"/>
<rect x="494.26" y="552.6" width="2.8" height="1" fill="#2e6aa8"/>
<line x1="499.5" y1="519" x2="499.5" y2="554" stroke="#2e6aa8" stroke-width="1"/>
<rect x="497.77" y="528" width="2.8" height="25" fill="#2e6aa8"/>
<line x1="502.5" y1="516" x2="502.5" y2="530" stroke="#2e6aa8" stroke-width="1"/>
<rect x="501.29" y="528.6" width="2.8" height="1" fill="#2e6aa8"/>
<line x1="506.5" y1="527" x2="506.5" y2="549" stroke="#c8465a" stroke-width="1"/>
<rect x="504.8" y="528" width="2.8" height="20" fill="#c8465a"/>
<line x1="509.5" y1="548" x2="509.5" y2="552" stroke="#c8465a" stroke-width="1"/>
<rect x="508.31" y="549" width="2.8" height="2" fill="#c8465a"/>
<line x1="513.5" y1="550" x2="513.5" y2="561" stroke="#c8465a" stroke-width="1"/>
<rect x="511.82" y="551" width="2.8" height="9" fill="#c8465a"/>
<line x1="516.5" y1="559" x2="516.5" y2="572" stroke="#c8465a" stroke-width="1"/>
<rect x="515.33" y="560" width="2.8" height="11" fill="#c8465a"/>
<line x1="520.5" y1="574" x2="520.5" y2="612" stroke="#2e6aa8" stroke-width="1"/>
<rect x="518.85" y="576" width="2.8" height="32" fill="#2e6aa8"/>
<line x1="523.5" y1="563" x2="523.5" y2="578" stroke="#2e6aa8" stroke-width="1"/>
<rect x="522.36" y="564" width="2.8" height="13" fill="#2e6aa8"/>
<line x1="527.5" y1="544" x2="527.5" y2="567" stroke="#2e6aa8" stroke-width="1"/>
<rect x="525.87" y="556" width="2.8" height="10" fill="#2e6aa8"/>
<line x1="530.5" y1="555" x2="530.5" y2="565" stroke="#c8465a" stroke-width="1"/>
<rect x="529.38" y="556" width="2.8" height="8" fill="#c8465a"/>
<line x1="534.5" y1="555" x2="534.5" y2="582" stroke="#c8465a" stroke-width="1"/>
<rect x="532.89" y="563" width="2.8" height="18" fill="#c8465a"/>
<line x1="537.5" y1="587" x2="537.5" y2="594" stroke="#2e6aa8" stroke-width="1"/>
<rect x="536.41" y="588" width="2.8" height="5" fill="#2e6aa8"/>
<line x1="541.5" y1="570" x2="541.5" y2="588" stroke="#2e6aa8" stroke-width="1"/>
<rect x="539.92" y="571" width="2.8" height="16" fill="#2e6aa8"/>
<line x1="544.5" y1="558" x2="544.5" y2="572" stroke="#2e6aa8" stroke-width="1"/>
<rect x="543.43" y="564" width="2.8" height="7" fill="#2e6aa8"/>
<line x1="548.5" y1="536" x2="548.5" y2="564" stroke="#2e6aa8" stroke-width="1"/>
<rect x="546.94" y="537" width="2.8" height="26" fill="#2e6aa8"/>
<line x1="551.5" y1="522" x2="551.5" y2="538" stroke="#2e6aa8" stroke-width="1"/>
<rect x="550.45" y="528" width="2.8" height="9" fill="#2e6aa8"/>
<line x1="555.5" y1="530" x2="555.5" y2="534" stroke="#c8465a" stroke-width="1"/>
<rect x="553.97" y="531.6" width="2.8" height="1" fill="#c8465a"/>
<line x1="558.5" y1="531" x2="558.5" y2="544" stroke="#c8465a" stroke-width="1"/>
<rect x="557.48" y="532" width="2.8" height="11" fill="#c8465a"/>
<line x1="562.5" y1="542" x2="562.5" y2="552" stroke="#c8465a" stroke-width="1"/>
<rect x="560.99" y="543" width="2.8" height="8" fill="#c8465a"/>
<line x1="565.5" y1="525" x2="565.5" y2="551" stroke="#2e6aa8" stroke-width="1"/>
<rect x="564.5" y="526" width="2.8" height="24" fill="#2e6aa8"/>
<line x1="569.5" y1="526" x2="569.5" y2="539" stroke="#c8465a" stroke-width="1"/>
<rect x="568.01" y="527" width="2.8" height="11" fill="#c8465a"/>
<line x1="572.5" y1="517.5" x2="572.5" y2="540" stroke="#2e6aa8" stroke-width="1"/>
<rect x="571.53" y="534" width="2.8" height="2" fill="#2e6aa8"/>
<line x1="576.5" y1="518" x2="576.5" y2="539" stroke="#2e6aa8" stroke-width="1"/>
<rect x="575.04" y="520.5" width="2.8" height="15" fill="#2e6aa8"/>
<line x1="579.5" y1="517" x2="579.5" y2="531" stroke="#c8465a" stroke-width="1"/>
<rect x="578.55" y="520" width="2.8" height="10" fill="#c8465a"/>
<line x1="583.5" y1="529" x2="583.5" y2="561" stroke="#c8465a" stroke-width="1"/>
<rect x="582.06" y="531" width="2.8" height="27" fill="#c8465a"/>
<line x1="586.5" y1="552" x2="586.5" y2="570" stroke="#c8465a" stroke-width="1"/>
<rect x="585.57" y="558" width="2.8" height="8" fill="#c8465a"/>
<line x1="590.5" y1="524.5" x2="590.5" y2="561" stroke="#2e6aa8" stroke-width="1"/>
<rect x="589.09" y="530" width="2.8" height="27" fill="#2e6aa8"/>
<line x1="593.5" y1="483" x2="593.5" y2="535" stroke="#2e6aa8" stroke-width="1"/>
<rect x="592.6" y="485" width="2.8" height="45" fill="#2e6aa8"/>
<line x1="597.5" y1="431" x2="597.5" y2="490" stroke="#2e6aa8" stroke-width="1"/>
<rect x="596.11" y="432" width="2.8" height="56" fill="#2e6aa8"/>
<line x1="601.5" y1="412" x2="601.5" y2="440" stroke="#c8465a" stroke-width="1"/>
<rect x="599.62" y="433" width="2.8" height="1.5" fill="#c8465a"/>
<line x1="604.5" y1="401" x2="604.5" y2="435" stroke="#2e6aa8" stroke-width="1"/>
<rect x="603.13" y="418" width="2.8" height="15.5" fill="#2e6aa8"/>
<line x1="608.5" y1="406" x2="608.5" y2="428" stroke="#2e6aa8" stroke-width="1"/>
<rect x="606.65" y="418.5" width="2.8" height="1" fill="#2e6aa8"/>
<line x1="611.5" y1="381.5" x2="611.5" y2="420" stroke="#2e6aa8" stroke-width="1"/>
<rect x="610.16" y="391" width="2.8" height="27.5" fill="#2e6aa8"/>
<line x1="615.5" y1="387.5" x2="615.5" y2="404" stroke="#c8465a" stroke-width="1"/>
<rect x="613.67" y="391" width="2.8" height="10.5" fill="#c8465a"/>
<line x1="618.5" y1="399" x2="618.5" y2="422" stroke="#c8465a" stroke-width="1"/>
<rect x="617.18" y="400" width="2.8" height="13" fill="#c8465a"/>
<line x1="622.5" y1="394" x2="622.5" y2="419" stroke="#2e6aa8" stroke-width="1"/>
<rect x="620.69" y="404" width="2.8" height="9" fill="#2e6aa8"/>
<line x1="625.5" y1="388" x2="625.5" y2="405" stroke="#2e6aa8" stroke-width="1"/>
<rect x="624.21" y="390" width="2.8" height="13" fill="#2e6aa8"/>
<line x1="629.5" y1="380" x2="629.5" y2="392" stroke="#2e6aa8" stroke-width="1"/>
<rect x="627.72" y="383.5" width="2.8" height="6.5" fill="#2e6aa8"/>
<line x1="632.5" y1="382.5" x2="632.5" y2="409" stroke="#c8465a" stroke-width="1"/>
<rect x="631.23" y="383" width="2.8" height="14" fill="#c8465a"/>
<line x1="636.5" y1="392.5" x2="636.5" y2="424" stroke="#c8465a" stroke-width="1"/>
<rect x="634.74" y="396.5" width="2.8" height="16.5" fill="#c8465a"/>
<line x1="639.5" y1="410" x2="639.5" y2="429" stroke="#c8465a" stroke-width="1"/>
<rect x="638.25" y="412" width="2.8" height="13" fill="#c8465a"/>
<line x1="643.5" y1="419" x2="643.5" y2="434.5" stroke="#c8465a" stroke-width="1"/>
<rect x="641.77" y="424" width="2.8" height="5.5" fill="#c8465a"/>
<line x1="646.5" y1="421" x2="646.5" y2="436" stroke="#c8465a" stroke-width="1"/>
<rect x="645.28" y="429" width="2.8" height="4" fill="#c8465a"/>
<line x1="650.5" y1="430" x2="650.5" y2="446.5" stroke="#c8465a" stroke-width="1"/>
<rect x="648.79" y="431" width="2.8" height="14" fill="#c8465a"/>
<line x1="653.5" y1="423" x2="653.5" y2="450" stroke="#2e6aa8" stroke-width="1"/>
<rect x="652.3" y="429" width="2.8" height="16" fill="#2e6aa8"/>
<line x1="657.5" y1="415.5" x2="657.5" y2="440" stroke="#2e6aa8" stroke-width="1"/>
<rect x="655.81" y="419.5" width="2.8" height="10" fill="#2e6aa8"/>
<line x1="660.5" y1="413" x2="660.5" y2="434" stroke="#c8465a" stroke-width="1"/>
<rect x="659.33" y="420" width="2.8" height="4" fill="#c8465a"/>
<line x1="664.5" y1="419.5" x2="664.5" y2="437" stroke="#c8465a" stroke-width="1"/>
<rect x="662.84" y="423" width="2.8" height="10" fill="#c8465a"/>
<line x1="667.5" y1="401" x2="667.5" y2="435" stroke="#2e6aa8" stroke-width="1"/>
<rect x="666.35" y="411" width="2.8" height="22" fill="#2e6aa8"/>
<line x1="671.5" y1="318" x2="671.5" y2="416" stroke="#2e6aa8" stroke-width="1"/>
<rect x="669.86" y="361" width="2.8" height="53" fill="#2e6aa8"/>
<line x1="674.5" y1="330" x2="674.5" y2="380" stroke="#c8465a" stroke-width="1"/>
<rect x="673.37" y="348" width="2.8" height="29" fill="#c8465a"/>
<line x1="678.5" y1="349" x2="678.5" y2="402" stroke="#2e6aa8" stroke-width="1"/>
<rect x="676.89" y="395" width="2.8" height="5" fill="#2e6aa8"/>
<line x1="681.5" y1="377" x2="681.5" y2="404" stroke="#2e6aa8" stroke-width="1"/>
<rect x="680.4" y="379" width="2.8" height="16" fill="#2e6aa8"/>
<line x1="685.5" y1="335" x2="685.5" y2="384" stroke="#c8465a" stroke-width="1"/>
<rect x="683.91" y="379.5" width="2.8" height="1.5" fill="#c8465a"/>
<line x1="688.5" y1="287" x2="688.5" y2="383" stroke="#2e6aa8" stroke-width="1"/>
<rect x="687.42" y="300" width="2.8" height="81" fill="#2e6aa8"/>
<line x1="692.5" y1="213" x2="692.5" y2="305" stroke="#2e6aa8" stroke-width="1"/>
<rect x="690.93" y="249.5" width="2.8" height="53.5" fill="#2e6aa8"/>
<line x1="695.5" y1="230" x2="695.5" y2="269" stroke="#2e6aa8" stroke-width="1"/>
<rect x="694.45" y="253" width="2.8" height="9" fill="#2e6aa8"/>
<line x1="699.5" y1="243" x2="699.5" y2="279.5" stroke="#c8465a" stroke-width="1"/>
<rect x="697.96" y="253" width="2.8" height="21.5" fill="#c8465a"/>
<line x1="702.5" y1="233" x2="702.5" y2="276" stroke="#2e6aa8" stroke-width="1"/>
<rect x="701.47" y="237" width="2.8" height="37.5" fill="#2e6aa8"/>
<line x1="706.5" y1="233" x2="706.5" y2="256" stroke="#c8465a" stroke-width="1"/>
<rect x="704.98" y="237" width="2.8" height="11.5" fill="#c8465a"/>
<line x1="709.5" y1="229" x2="709.5" y2="250" stroke="#2e6aa8" stroke-width="1"/>
<rect x="708.49" y="238" width="2.8" height="10" fill="#2e6aa8"/>
<line x1="713.5" y1="181" x2="713.5" y2="240" stroke="#2e6aa8" stroke-width="1"/>
<rect x="712.01" y="199" width="2.8" height="39" fill="#2e6aa8"/>
<line x1="716.5" y1="189" x2="716.5" y2="232" stroke="#c8465a" stroke-width="1"/>
<rect x="715.52" y="197" width="2.8" height="33" fill="#c8465a"/>
<line x1="720.5" y1="224" x2="720.5" y2="266" stroke="#c8465a" stroke-width="1"/>
<rect x="719.03" y="229" width="2.8" height="35" fill="#c8465a"/>
<line x1="723.5" y1="237" x2="723.5" y2="265" stroke="#2e6aa8" stroke-width="1"/>
<rect x="722.54" y="240" width="2.8" height="23" fill="#2e6aa8"/>
<line x1="727.5" y1="238.5" x2="727.5" y2="264" stroke="#c8465a" stroke-width="1"/>
<rect x="726.05" y="241" width="2.8" height="7.5" fill="#c8465a"/>
<line x1="730.5" y1="227" x2="730.5" y2="259" stroke="#2e6aa8" stroke-width="1"/>
<rect x="729.57" y="229.5" width="2.8" height="18.5" fill="#2e6aa8"/>
<line x1="734.5" y1="227" x2="734.5" y2="245.5" stroke="#c8465a" stroke-width="1"/>
<rect x="733.08" y="229.5" width="2.8" height="12" fill="#c8465a"/>
<line x1="737.5" y1="237" x2="737.5" y2="262" stroke="#c8465a" stroke-width="1"/>
<rect x="736.59" y="240" width="2.8" height="19.5" fill="#c8465a"/>
<line x1="741.5" y1="256" x2="741.5" y2="280" stroke="#c8465a" stroke-width="1"/>
<rect x="740.1" y="259" width="2.8" height="12.5" fill="#c8465a"/>
<line x1="745.5" y1="242.5" x2="745.5" y2="276.5" stroke="#2e6aa8" stroke-width="1"/>
<rect x="743.61" y="269" width="2.8" height="3" fill="#2e6aa8"/>
<line x1="748.5" y1="248" x2="748.5" y2="269.5" stroke="#2e6aa8" stroke-width="1"/>
<rect x="747.13" y="264" width="2.8" height="3" fill="#2e6aa8"/>
<line x1="752.5" y1="243" x2="752.5" y2="275" stroke="#2e6aa8" stroke-width="1"/>
<rect x="750.64" y="246.5" width="2.8" height="18" fill="#2e6aa8"/>
<line x1="755.5" y1="243" x2="755.5" y2="271" stroke="#c8465a" stroke-width="1"/>
<rect x="754.15" y="246.5" width="2.8" height="22" fill="#c8465a"/>
<line x1="759.5" y1="257" x2="759.5" y2="297" stroke="#c8465a" stroke-width="1"/>
<rect x="757.66" y="266" width="2.8" height="25" fill="#c8465a"/>
<line x1="762.5" y1="271" x2="762.5" y2="301" stroke="#2e6aa8" stroke-width="1"/>
<rect x="761.17" y="286" width="2.8" height="7" fill="#2e6aa8"/>
<line x1="766.5" y1="287.5" x2="766.5" y2="344" stroke="#c8465a" stroke-width="1"/>
<rect x="764.69" y="300" width="2.8" height="37" fill="#c8465a"/>
<line x1="769.5" y1="302" x2="769.5" y2="338" stroke="#2e6aa8" stroke-width="1"/>
<rect x="768.2" y="305" width="2.8" height="31" fill="#2e6aa8"/>
<line x1="773.5" y1="280" x2="773.5" y2="312" stroke="#c8465a" stroke-width="1"/>
<rect x="771.71" y="305" width="2.8" height="4.5" fill="#c8465a"/>
<line x1="776.5" y1="292" x2="776.5" y2="308" stroke="#2e6aa8" stroke-width="1"/>
<rect x="775.22" y="306.5" width="2.8" height="1" fill="#2e6aa8"/>
<line x1="780.5" y1="295" x2="780.5" y2="323" stroke="#c8465a" stroke-width="1"/>
<rect x="778.73" y="304" width="2.8" height="8.5" fill="#c8465a"/>
<line x1="783.5" y1="272.5" x2="783.5" y2="310" stroke="#2e6aa8" stroke-width="1"/>
<rect x="782.25" y="287" width="2.8" height="21" fill="#2e6aa8"/>
<line x1="787.5" y1="272" x2="787.5" y2="290" stroke="#2e6aa8" stroke-width="1"/>
<rect x="785.76" y="274" width="2.8" height="13.5" fill="#2e6aa8"/>
<line x1="790.5" y1="248.5" x2="790.5" y2="276" stroke="#2e6aa8" stroke-width="1"/>
<rect x="789.27" y="259" width="2.8" height="15" fill="#2e6aa8"/>
<line x1="794.5" y1="254.5" x2="794.5" y2="279" stroke="#c8465a" stroke-width="1"/>
<rect x="792.78" y="260" width="2.8" height="15" fill="#c8465a"/>
<line x1="797.5" y1="244.5" x2="797.5" y2="276" stroke="#2e6aa8" stroke-width="1"/>
<rect x="796.29" y="248" width="2.8" height="26" fill="#2e6aa8"/>
<line x1="801.5" y1="231" x2="801.5" y2="250" stroke="#2e6aa8" stroke-width="1"/>
<rect x="799.81" y="240" width="2.8" height="7.5" fill="#2e6aa8"/>
<line x1="804.5" y1="234.5" x2="804.5" y2="262" stroke="#c8465a" stroke-width="1"/>
<rect x="803.32" y="241" width="2.8" height="19" fill="#c8465a"/>
<line x1="808.5" y1="254.5" x2="808.5" y2="278" stroke="#c8465a" stroke-width="1"/>
<rect x="806.83" y="259" width="2.8" height="16" fill="#c8465a"/>
<line x1="811.5" y1="242" x2="811.5" y2="276" stroke="#2e6aa8" stroke-width="1"/>
<rect x="810.34" y="247" width="2.8" height="27" fill="#2e6aa8"/>
<line x1="815.5" y1="240" x2="815.5" y2="265" stroke="#c8465a" stroke-width="1"/>
<rect x="813.85" y="246" width="2.8" height="7" fill="#c8465a"/>
<line x1="818.5" y1="221" x2="818.5" y2="255" stroke="#2e6aa8" stroke-width="1"/>
<rect x="817.37" y="222" width="2.8" height="31" fill="#2e6aa8"/>
<line x1="822.5" y1="219.5" x2="822.5" y2="249" stroke="#c8465a" stroke-width="1"/>
<rect x="820.88" y="224" width="2.8" height="23" fill="#c8465a"/>
<line x1="825.5" y1="226" x2="825.5" y2="249.5" stroke="#2e6aa8" stroke-width="1"/>
<rect x="824.39" y="231" width="2.8" height="15" fill="#2e6aa8"/>
<line x1="829.5" y1="206" x2="829.5" y2="234.5" stroke="#2e6aa8" stroke-width="1"/>
<rect x="827.9" y="222.5" width="2.8" height="10.5" fill="#2e6aa8"/>
<line x1="832.5" y1="218" x2="832.5" y2="245" stroke="#c8465a" stroke-width="1"/>
<rect x="831.41" y="222" width="2.8" height="16" fill="#c8465a"/>
<line x1="836.5" y1="224" x2="836.5" y2="240.5" stroke="#2e6aa8" stroke-width="1"/>
<rect x="834.93" y="230" width="2.8" height="7" fill="#2e6aa8"/>
<line x1="839.5" y1="221.5" x2="839.5" y2="245" stroke="#2e6aa8" stroke-width="1"/>
<rect x="838.44" y="228.5" width="2.8" height="1" fill="#2e6aa8"/>
<line x1="843.5" y1="205.5" x2="843.5" y2="234.5" stroke="#2e6aa8" stroke-width="1"/>
<rect x="841.95" y="208.5" width="2.8" height="20" fill="#2e6aa8"/>
<line x1="846.5" y1="161.5" x2="846.5" y2="211" stroke="#2e6aa8" stroke-width="1"/>
<rect x="845.46" y="177" width="2.8" height="32" fill="#2e6aa8"/>
<line x1="850.5" y1="168" x2="850.5" y2="207" stroke="#c8465a" stroke-width="1"/>
<rect x="848.97" y="177" width="2.8" height="11" fill="#c8465a"/>
<line x1="853.5" y1="168" x2="853.5" y2="196" stroke="#2e6aa8" stroke-width="1"/>
<rect x="852.49" y="185" width="2.8" height="8.5" fill="#2e6aa8"/>
<line x1="857.5" y1="178" x2="857.5" y2="213" stroke="#c8465a" stroke-width="1"/>
<rect x="856" y="183" width="2.8" height="27.5" fill="#c8465a"/>
<line x1="860.5" y1="195" x2="860.5" y2="216.5" stroke="#c8465a" stroke-width="1"/>
<rect x="859.51" y="210" width="2.8" height="2" fill="#c8465a"/>
<line x1="864.5" y1="200" x2="864.5" y2="221.5" stroke="#2e6aa8" stroke-width="1"/>
<rect x="863.02" y="205.5" width="2.8" height="6" fill="#2e6aa8"/>
<line x1="867.5" y1="190" x2="867.5" y2="208" stroke="#2e6aa8" stroke-width="1"/>
<rect x="866.53" y="197" width="2.8" height="9.5" fill="#2e6aa8"/>
<line x1="871.5" y1="178" x2="871.5" y2="220" stroke="#2e6aa8" stroke-width="1"/>
<rect x="870.05" y="179" width="2.8" height="39.5" fill="#2e6aa8"/>
<line x1="874.5" y1="159" x2="874.5" y2="180" stroke="#2e6aa8" stroke-width="1"/>
<rect x="873.56" y="169" width="2.8" height="9.5" fill="#2e6aa8"/>
<line x1="878.5" y1="152" x2="878.5" y2="174" stroke="#2e6aa8" stroke-width="1"/>
<rect x="877.07" y="153" width="2.8" height="16" fill="#2e6aa8"/>
<line x1="881.5" y1="125" x2="881.5" y2="155" stroke="#2e6aa8" stroke-width="1"/>
<rect x="880.58" y="139.5" width="2.8" height="14" fill="#2e6aa8"/>
<line x1="885.5" y1="122.5" x2="885.5" y2="146" stroke="#2e6aa8" stroke-width="1"/>
<rect x="884.09" y="134.5" width="2.8" height="6" fill="#2e6aa8"/>
<line x1="889.5" y1="110" x2="889.5" y2="136" stroke="#2e6aa8" stroke-width="1"/>
<rect x="887.61" y="112" width="2.8" height="18" fill="#2e6aa8"/>
<line x1="892.5" y1="98" x2="892.5" y2="120" stroke="#2e6aa8" stroke-width="1"/>
<rect x="891.12" y="106" width="2.8" height="6.5" fill="#2e6aa8"/>
<line x1="896.5" y1="105" x2="896.5" y2="125" stroke="#2e6aa8" stroke-width="1"/>
<rect x="894.63" y="107" width="2.8" height="1" fill="#2e6aa8"/>
<line x1="899.5" y1="105" x2="899.5" y2="134" stroke="#c8465a" stroke-width="1"/>
<rect x="898.14" y="109" width="2.8" height="13" fill="#c8465a"/>
<line x1="903.5" y1="111.5" x2="903.5" y2="122" stroke="#2e6aa8" stroke-width="1"/>
<rect x="901.65" y="115" width="2.8" height="5" fill="#2e6aa8"/>
<line x1="906.5" y1="110" x2="906.5" y2="144" stroke="#c8465a" stroke-width="1"/>
<rect x="905.17" y="112" width="2.8" height="25" fill="#c8465a"/>
<line x1="910.5" y1="119" x2="910.5" y2="145" stroke="#2e6aa8" stroke-width="1"/>
<rect x="908.68" y="132.5" width="2.8" height="3.5" fill="#2e6aa8"/>
<line x1="913.5" y1="131" x2="913.5" y2="143" stroke="#2e6aa8" stroke-width="1"/>
<rect x="912.19" y="132.5" width="2.8" height="1" fill="#2e6aa8"/>
<line x1="917.5" y1="124" x2="917.5" y2="152" stroke="#c8465a" stroke-width="1"/>
<rect x="915.7" y="134" width="2.8" height="5" fill="#c8465a"/>
<line x1="920.5" y1="136" x2="920.5" y2="150" stroke="#c8465a" stroke-width="1"/>
<rect x="919.21" y="141" width="2.8" height="1.5" fill="#c8465a"/>
<line x1="924.5" y1="142" x2="924.5" y2="154" stroke="#c8465a" stroke-width="1"/>
<rect x="922.73" y="149.5" width="2.8" height="1.5" fill="#c8465a"/>
<line x1="927.5" y1="143" x2="927.5" y2="174.5" stroke="#c8465a" stroke-width="1"/>
<rect x="926.24" y="151.5" width="2.8" height="20.5" fill="#c8465a"/>
<line x1="931.5" y1="138" x2="931.5" y2="185" stroke="#2e6aa8" stroke-width="1"/>
<rect x="929.75" y="159" width="2.8" height="13.5" fill="#2e6aa8"/>
<line x1="934.5" y1="158" x2="934.5" y2="185.5" stroke="#c8465a" stroke-width="1"/>
<rect x="933.26" y="160" width="2.8" height="13" fill="#c8465a"/>
<line x1="938.5" y1="149.5" x2="938.5" y2="176" stroke="#2e6aa8" stroke-width="1"/>
<rect x="936.77" y="164" width="2.8" height="10.5" fill="#2e6aa8"/>
<line x1="941.5" y1="134" x2="941.5" y2="166.5" stroke="#2e6aa8" stroke-width="1"/>
<rect x="940.29" y="141.5" width="2.8" height="21" fill="#2e6aa8"/>
<line x1="945.5" y1="121" x2="945.5" y2="146" stroke="#2e6aa8" stroke-width="1"/>
<rect x="943.8" y="122.5" width="2.8" height="20" fill="#2e6aa8"/>
<line x1="948.5" y1="115" x2="948.5" y2="136" stroke="#2e6aa8" stroke-width="1"/>
<rect x="947.31" y="116.5" width="2.8" height="6" fill="#2e6aa8"/>
<line x1="952.5" y1="112" x2="952.5" y2="129.5" stroke="#c8465a" stroke-width="1"/>
<rect x="950.82" y="117.5" width="2.8" height="7" fill="#c8465a"/>
<line x1="955.5" y1="121" x2="955.5" y2="138" stroke="#2e6aa8" stroke-width="1"/>
<rect x="954.33" y="125.5" width="2.8" height="1" fill="#2e6aa8"/>
<line x1="959.5" y1="117.5" x2="959.5" y2="177" stroke="#c8465a" stroke-width="1"/>
<rect x="957.85" y="122" width="2.8" height="54" fill="#c8465a"/>
<line x1="962.5" y1="173" x2="962.5" y2="198" stroke="#c8465a" stroke-width="1"/>
<rect x="961.36" y="175.5" width="2.8" height="13.8" fill="#c8465a"/>
<line x1="966.5" y1="181" x2="966.5" y2="237" stroke="#c8465a" stroke-width="1"/>
<rect x="964.87" y="189" width="2.8" height="46" fill="#c8465a"/>
<line x1="969.5" y1="217.6" x2="969.5" y2="236" stroke="#2e6aa8" stroke-width="1"/>
<rect x="968.38" y="232" width="2.8" height="2" fill="#2e6aa8"/>
<line x1="973.5" y1="172.5" x2="973.5" y2="239.6" stroke="#2e6aa8" stroke-width="1"/>
<rect x="971.89" y="176" width="2.8" height="55.5" fill="#2e6aa8"/>
<line x1="976.5" y1="173" x2="976.5" y2="186" stroke="#c8465a" stroke-width="1"/>
<rect x="975.41" y="174.5" width="2.8" height="7.5" fill="#c8465a"/>
<line x1="980.5" y1="177" x2="980.5" y2="195" stroke="#2e6aa8" stroke-width="1"/>
<rect x="978.92" y="180" width="2.8" height="1" fill="#2e6aa8"/>
<line x1="983.5" y1="150" x2="983.5" y2="183" stroke="#2e6aa8" stroke-width="1"/>
<rect x="982.43" y="153" width="2.8" height="27.5" fill="#2e6aa8"/>
<line x1="987.5" y1="140" x2="987.5" y2="167" stroke="#2e6aa8" stroke-width="1"/>
<rect x="985.94" y="152" width="2.8" height="1" fill="#2e6aa8"/>
<line x1="990.5" y1="147" x2="990.5" y2="161.5" stroke="#c8465a" stroke-width="1"/>
<rect x="989.45" y="152" width="2.8" height="8" fill="#c8465a"/>
<line x1="994.5" y1="148.5" x2="994.5" y2="175" stroke="#c8465a" stroke-width="1"/>
<rect x="992.97" y="156" width="2.8" height="11" fill="#c8465a"/>
<line x1="997.5" y1="142" x2="997.5" y2="172" stroke="#2e6aa8" stroke-width="1"/>
<rect x="996.48" y="149" width="2.8" height="18" fill="#2e6aa8"/>
<line x1="1001.5" y1="130.5" x2="1001.5" y2="148" stroke="#2e6aa8" stroke-width="1"/>
<rect x="999.99" y="140" width="2.8" height="6" fill="#2e6aa8"/>
<line x1="1004.5" y1="134" x2="1004.5" y2="158" stroke="#c8465a" stroke-width="1"/>
<rect x="1003.5" y="135.5" width="2.8" height="20.5" fill="#c8465a"/>
<line x1="1008.5" y1="136" x2="1008.5" y2="160" stroke="#2e6aa8" stroke-width="1"/>
<rect x="1007.01" y="140" width="2.8" height="16" fill="#2e6aa8"/>
<line x1="1011.5" y1="134.5" x2="1011.5" y2="155" stroke="#c8465a" stroke-width="1"/>
<rect x="1010.53" y="136" width="2.8" height="17" fill="#c8465a"/>
<line x1="1015.5" y1="140" x2="1015.5" y2="159" stroke="#c8465a" stroke-width="1"/>
<rect x="1014.04" y="152" width="2.8" height="5" fill="#c8465a"/>
<line x1="1018.5" y1="148" x2="1018.5" y2="165" stroke="#2e6aa8" stroke-width="1"/>
<rect x="1017.55" y="155" width="2.8" height="1" fill="#2e6aa8"/>
<line x1="1022.5" y1="153" x2="1022.5" y2="172" stroke="#c8465a" stroke-width="1"/>
<rect x="1021.06" y="155" width="2.8" height="15" fill="#c8465a"/>
<line x1="1025.5" y1="126.5" x2="1025.5" y2="177" stroke="#2e6aa8" stroke-width="1"/>
<rect x="1024.57" y="133" width="2.8" height="37" fill="#2e6aa8"/>
<line x1="1029.5" y1="131" x2="1029.5" y2="172" stroke="#c8465a" stroke-width="1"/>
<rect x="1028.09" y="132" width="2.8" height="33" fill="#c8465a"/>
<line x1="1032.5" y1="152" x2="1032.5" y2="172" stroke="#2e6aa8" stroke-width="1"/>
<rect x="1031.6" y="159" width="2.8" height="8" fill="#2e6aa8"/>
<line x1="1036.5" y1="157" x2="1036.5" y2="180" stroke="#c8465a" stroke-width="1"/>
<rect x="1035.11" y="158" width="2.8" height="1" fill="#c8465a"/>
<line x1="1040.5" y1="141" x2="1040.5" y2="163" stroke="#2e6aa8" stroke-width="1"/>
<rect x="1038.62" y="146" width="2.8" height="15" fill="#2e6aa8"/>
<line x1="1043.5" y1="137" x2="1043.5" y2="155" stroke="#2e6aa8" stroke-width="1"/>
<rect x="1042.13" y="144" width="2.8" height="2" fill="#2e6aa8"/>
<line x1="1047.5" y1="128" x2="1047.5" y2="144" stroke="#2e6aa8" stroke-width="1"/>
<rect x="1045.65" y="136.5" width="2.8" height="5.5" fill="#2e6aa8"/>
<line x1="1050.5" y1="134" x2="1050.5" y2="167" stroke="#c8465a" stroke-width="1"/>
<rect x="1049.16" y="137" width="2.8" height="22" fill="#c8465a"/>
<line x1="1054.5" y1="146.5" x2="1054.5" y2="169.5" stroke="#2e6aa8" stroke-width="1"/>
<rect x="1052.67" y="153" width="2.8" height="6" fill="#2e6aa8"/>
<line x1="1057.5" y1="149.5" x2="1057.5" y2="162" stroke="#c8465a" stroke-width="1"/>
<rect x="1056.18" y="152.5" width="2.8" height="4" fill="#c8465a"/>
<line x1="1061.5" y1="121.5" x2="1061.5" y2="158" stroke="#2e6aa8" stroke-width="1"/>
<rect x="1059.69" y="134.5" width="2.8" height="22" fill="#2e6aa8"/>
<line x1="1064.5" y1="119" x2="1064.5" y2="137" stroke="#2e6aa8" stroke-width="1"/>
<rect x="1063.21" y="120" width="2.8" height="15.5" fill="#2e6aa8"/>
<line x1="1068.5" y1="114.5" x2="1068.5" y2="138" stroke="#c8465a" stroke-width="1"/>
<rect x="1066.72" y="120" width="2.8" height="16.5" fill="#c8465a"/>
<line x1="1071.5" y1="130" x2="1071.5" y2="145" stroke="#c8465a" stroke-width="1"/>
<rect x="1070.23" y="137" width="2.8" height="5.5" fill="#c8465a"/>
<line x1="1075.5" y1="126" x2="1075.5" y2="152" stroke="#2e6aa8" stroke-width="1"/>
<rect x="1073.74" y="128.5" width="2.8" height="13.5" fill="#2e6aa8"/>
<line x1="1078.5" y1="125" x2="1078.5" y2="140" stroke="#2e6aa8" stroke-width="1"/>
<rect x="1077.25" y="128" width="2.8" height="2" fill="#2e6aa8"/>
<line x1="1082.5" y1="117" x2="1082.5" y2="134" stroke="#2e6aa8" stroke-width="1"/>
<rect x="1080.77" y="120.5" width="2.8" height="9" fill="#2e6aa8"/>
<line x1="1085.5" y1="83.5" x2="1085.5" y2="121" stroke="#2e6aa8" stroke-width="1"/>
<rect x="1084.28" y="87" width="2.8" height="32.5" fill="#2e6aa8"/>
<line x1="1089.5" y1="69.5" x2="1089.5" y2="110" stroke="#c8465a" stroke-width="1"/>
<rect x="1087.79" y="89" width="2.8" height="15" fill="#c8465a"/>
<line x1="1092.5" y1="93" x2="1092.5" y2="123" stroke="#c8465a" stroke-width="1"/>
<rect x="1091.3" y="104" width="2.8" height="8.5" fill="#c8465a"/>
<line x1="1096.5" y1="110" x2="1096.5" y2="130" stroke="#c8465a" stroke-width="1"/>
<rect x="1094.81" y="112" width="2.8" height="13" fill="#c8465a"/>
<line x1="1099.5" y1="105" x2="1099.5" y2="131" stroke="#2e6aa8" stroke-width="1"/>
<rect x="1098.33" y="107" width="2.8" height="21" fill="#2e6aa8"/>
<line x1="1103.5" y1="101.5" x2="1103.5" y2="114" stroke="#2e6aa8" stroke-width="1"/>
<rect x="1101.84" y="102.5" width="2.8" height="6.5" fill="#2e6aa8"/>
<line x1="1106.5" y1="102" x2="1106.5" y2="129" stroke="#c8465a" stroke-width="1"/>
<rect x="1105.35" y="103" width="2.8" height="25" fill="#c8465a"/>
<line x1="1110.5" y1="123" x2="1110.5" y2="158" stroke="#c8465a" stroke-width="1"/>
<rect x="1108.86" y="128" width="2.8" height="23" fill="#c8465a"/>
<line x1="1113.5" y1="138.5" x2="1113.5" y2="155" stroke="#2e6aa8" stroke-width="1"/>
<rect x="1112.37" y="140" width="2.8" height="13" fill="#2e6aa8"/>
<line x1="1117.5" y1="122" x2="1117.5" y2="141" stroke="#2e6aa8" stroke-width="1"/>
<rect x="1115.89" y="132" width="2.8" height="7" fill="#2e6aa8"/>
<line x1="1120.5" y1="120" x2="1120.5" y2="137" stroke="#2e6aa8" stroke-width="1"/>
<rect x="1119.4" y="129.5" width="2.8" height="5.5" fill="#2e6aa8"/>
<line x1="1124.5" y1="115" x2="1124.5" y2="135" stroke="#c8465a" stroke-width="1"/>
<rect x="1122.91" y="128" width="2.8" height="2" fill="#c8465a"/>
<line x1="1127.5" y1="121" x2="1127.5" y2="144" stroke="#c8465a" stroke-width="1"/>
<rect x="1126.42" y="130" width="2.8" height="2" fill="#c8465a"/>
<line x1="1131.5" y1="121" x2="1131.5" y2="137" stroke="#2e6aa8" stroke-width="1"/>
<rect x="1129.93" y="126" width="2.8" height="9" fill="#2e6aa8"/>
<line x1="1134.5" y1="130" x2="1134.5" y2="155" stroke="#c8465a" stroke-width="1"/>
<rect x="1133.45" y="131" width="2.8" height="4" fill="#c8465a"/>
<line x1="1138.5" y1="135" x2="1138.5" y2="155" stroke="#c8465a" stroke-width="1"/>
<rect x="1136.96" y="136.5" width="2.8" height="17" fill="#c8465a"/>
<line x1="1141.5" y1="152" x2="1141.5" y2="172" stroke="#c8465a" stroke-width="1"/>
<rect x="1140.47" y="153.5" width="2.8" height="10" fill="#c8465a"/>
<line x1="1145.5" y1="158" x2="1145.5" y2="190" stroke="#c8465a" stroke-width="1"/>
<rect x="1143.98" y="164" width="2.8" height="19.5" fill="#c8465a"/>
<line x1="1148.5" y1="162.5" x2="1148.5" y2="187" stroke="#2e6aa8" stroke-width="1"/>
<rect x="1147.49" y="165" width="2.8" height="20" fill="#2e6aa8"/>
<line x1="1152.5" y1="163" x2="1152.5" y2="185.5" stroke="#c8465a" stroke-width="1"/>
<rect x="1151.01" y="169" width="2.8" height="13" fill="#c8465a"/>
<line x1="1155.5" y1="168" x2="1155.5" y2="190" stroke="#2e6aa8" stroke-width="1"/>
<rect x="1154.52" y="170" width="2.8" height="12" fill="#2e6aa8"/>
<line x1="1159.5" y1="157" x2="1159.5" y2="172" stroke="#2e6aa8" stroke-width="1"/>
<rect x="1158.03" y="158" width="2.8" height="12" fill="#2e6aa8"/>
<line x1="1162.5" y1="142" x2="1162.5" y2="159" stroke="#2e6aa8" stroke-width="1"/>
<rect x="1161.54" y="144" width="2.8" height="13.5" fill="#2e6aa8"/>
<line x1="1166.5" y1="131" x2="1166.5" y2="157" stroke="#c8465a" stroke-width="1"/>
<rect x="1165.05" y="145" width="2.8" height="10" fill="#c8465a"/>
<line x1="1169.5" y1="147" x2="1169.5" y2="161" stroke="#c8465a" stroke-width="1"/>
<rect x="1168.57" y="149" width="2.8" height="10" fill="#c8465a"/>
<line x1="1173.5" y1="155" x2="1173.5" y2="174" stroke="#c8465a" stroke-width="1"/>
<rect x="1172.08" y="159" width="2.8" height="13" fill="#c8465a"/>
<line x1="1176.5" y1="166" x2="1176.5" y2="179" stroke="#2e6aa8" stroke-width="1"/>
<rect x="1175.59" y="169" width="2.8" height="3.5" fill="#2e6aa8"/>
<line x1="1180.5" y1="165.5" x2="1180.5" y2="176.5" stroke="#2e6aa8" stroke-width="1"/>
<rect x="1179.1" y="166.5" width="2.8" height="1.5" fill="#2e6aa8"/>
<line x1="1184.5" y1="156" x2="1184.5" y2="172" stroke="#2e6aa8" stroke-width="1"/>
<rect x="1182.61" y="164" width="2.8" height="2" fill="#2e6aa8"/>
<line x1="1187.5" y1="156" x2="1187.5" y2="166" stroke="#2e6aa8" stroke-width="1"/>
<rect x="1186.13" y="158" width="2.8" height="3" fill="#2e6aa8"/>
<line x1="1191.5" y1="150" x2="1191.5" y2="163.5" stroke="#2e6aa8" stroke-width="1"/>
<rect x="1189.64" y="155" width="2.8" height="2.5" fill="#2e6aa8"/>
<line x1="1194.5" y1="151" x2="1194.5" y2="178" stroke="#c8465a" stroke-width="1"/>
<rect x="1193.15" y="155" width="2.8" height="17" fill="#c8465a"/>
<line x1="1198.5" y1="160" x2="1198.5" y2="189" stroke="#c8465a" stroke-width="1"/>
<rect x="1196.66" y="172" width="2.8" height="11" fill="#c8465a"/>
<line x1="1201.5" y1="180" x2="1201.5" y2="198" stroke="#c8465a" stroke-width="1"/>
<rect x="1200.17" y="183" width="2.8" height="10" fill="#c8465a"/>
<line x1="1205.5" y1="191" x2="1205.5" y2="202" stroke="#c8465a" stroke-width="1"/>
<rect x="1203.69" y="194" width="2.8" height="4" fill="#c8465a"/>
<line x1="1208.5" y1="194.5" x2="1208.5" y2="211" stroke="#c8465a" stroke-width="1"/>
<rect x="1207.2" y="198" width="2.8" height="12" fill="#c8465a"/>
<line x1="1212.5" y1="205" x2="1212.5" y2="211" stroke="#2e6aa8" stroke-width="1"/>
<rect x="1210.71" y="207" width="2.8" height="2.5" fill="#2e6aa8"/>
<line x1="1215.5" y1="188" x2="1215.5" y2="208" stroke="#2e6aa8" stroke-width="1"/>
<rect x="1214.22" y="189" width="2.8" height="18" fill="#2e6aa8"/>
<line x1="1219.5" y1="176" x2="1219.5" y2="194" stroke="#2e6aa8" stroke-width="1"/>
<rect x="1217.73" y="183" width="2.8" height="7" fill="#2e6aa8"/>
<line x1="1222.5" y1="178" x2="1222.5" y2="190" stroke="#c8465a" stroke-width="1"/>
<rect x="1221.25" y="184" width="2.8" height="2" fill="#c8465a"/>
<line x1="1226.5" y1="170" x2="1226.5" y2="189" stroke="#2e6aa8" stroke-width="1"/>
<rect x="1224.76" y="178" width="2.8" height="8" fill="#2e6aa8"/>
<line x1="1229.5" y1="170" x2="1229.5" y2="183" stroke="#2e6aa8" stroke-width="1"/>
<rect x="1228.27" y="174" width="2.8" height="2" fill="#2e6aa8"/>
<line x1="1233.5" y1="155" x2="1233.5" y2="178" stroke="#2e6aa8" stroke-width="1"/>
<rect x="1231.78" y="161.5" width="2.8" height="13" fill="#2e6aa8"/>
<line x1="1236.5" y1="155" x2="1236.5" y2="169" stroke="#c8465a" stroke-width="1"/>
<rect x="1235.29" y="160" width="2.8" height="5" fill="#c8465a"/>
<line x1="1240.5" y1="164" x2="1240.5" y2="177" stroke="#c8465a" stroke-width="1"/>
<rect x="1238.81" y="165" width="2.8" height="9.5" fill="#c8465a"/>
<line x1="1243.5" y1="170" x2="1243.5" y2="180" stroke="#c8465a" stroke-width="1"/>
<rect x="1242.32" y="174.5" width="2.8" height="4.5" fill="#c8465a"/>
<line x1="1247.5" y1="174" x2="1247.5" y2="198" stroke="#c8465a" stroke-width="1"/>
<rect x="1245.83" y="178.5" width="2.8" height="13" fill="#c8465a"/>
<line x1="1250.5" y1="189" x2="1250.5" y2="203" stroke="#c8465a" stroke-width="1"/>
<rect x="1249.34" y="192" width="2.8" height="3" fill="#c8465a"/>
<line x1="1254.5" y1="188" x2="1254.5" y2="207" stroke="#c8465a" stroke-width="1"/>
<rect x="1252.85" y="195.5" width="2.8" height="4.5" fill="#c8465a"/>
<line x1="1257.5" y1="188.1" x2="1257.5" y2="203.7" stroke="#2e6aa8" stroke-width="1"/>
<rect x="1256.37" y="197.9" width="2.8" height="1" fill="#2e6aa8"/>
<text x="454" y="60.92" font-size="10.1" fill="#2a2e39" text-anchor="end" font-weight="normal" letter-spacing="0" >0.00% (1.19301)</text>
<text x="454" y="194.06" font-size="10.1" fill="#2a2e39" text-anchor="end" font-weight="normal" letter-spacing="0" >23.60% (1.15160)</text>
<text x="454" y="276.39" font-size="10.1" fill="#2a2e39" text-anchor="end" font-weight="normal" letter-spacing="0" >38.20% (1.12599)</text>
<text x="454" y="342.97" font-size="10.1" fill="#2a2e39" text-anchor="end" font-weight="normal" letter-spacing="0" >50.00% (1.10528)</text>
<text x="454" y="409.53" font-size="10.1" fill="#2a2e39" text-anchor="end" font-weight="normal" letter-spacing="0" >61.80% (1.08458)</text>
<text x="454" y="504.27" font-size="10.1" fill="#2a2e39" text-anchor="end" font-weight="normal" letter-spacing="0" >78.60% (1.05511)</text>
<text x="454" y="624.99" font-size="10.1" fill="#2a2e39" text-anchor="end" font-weight="normal" letter-spacing="0" >100.00% (1.01756)</text>
<text x="1352.5" y="47.95" font-size="12" fill="#131722" text-anchor="end" font-weight="normal" letter-spacing="0.45" >1.20000</text>
<text x="1352.5" y="80.1" font-size="12" fill="#131722" text-anchor="end" font-weight="normal" letter-spacing="0.45" >1.19000</text>
<text x="1352.5" y="112.25" font-size="12" fill="#131722" text-anchor="end" font-weight="normal" letter-spacing="0.45" >1.18000</text>
<text x="1352.5" y="144.4" font-size="12" fill="#131722" text-anchor="end" font-weight="normal" letter-spacing="0.45" >1.17000</text>
<text x="1352.5" y="176.55" font-size="12" fill="#131722" text-anchor="end" font-weight="normal" letter-spacing="0.45" >1.16000</text>
<text x="1352.5" y="208.7" font-size="12" fill="#131722" text-anchor="end" font-weight="normal" letter-spacing="0.45" >1.15000</text>
<text x="1352.5" y="240.85" font-size="12" fill="#131722" text-anchor="end" font-weight="normal" letter-spacing="0.45" >1.14000</text>
<text x="1352.5" y="273" font-size="12" fill="#131722" text-anchor="end" font-weight="normal" letter-spacing="0.45" >1.13000</text>
<text x="1352.5" y="305.15" font-size="12" fill="#131722" text-anchor="end" font-weight="normal" letter-spacing="0.45" >1.12000</text>
<text x="1352.5" y="337.3" font-size="12" fill="#131722" text-anchor="end" font-weight="normal" letter-spacing="0.45" >1.11000</text>
<text x="1352.5" y="369.45" font-size="12" fill="#131722" text-anchor="end" font-weight="normal" letter-spacing="0.45" >1.10000</text>
<text x="1352.5" y="401.6" font-size="12" fill="#131722" text-anchor="end" font-weight="normal" letter-spacing="0.45" >1.09000</text>
<text x="1352.5" y="433.75" font-size="12" fill="#131722" text-anchor="end" font-weight="normal" letter-spacing="0.45" >1.08000</text>
<text x="1352.5" y="465.9" font-size="12" fill="#131722" text-anchor="end" font-weight="normal" letter-spacing="0.45" >1.07000</text>
<text x="1352.5" y="498.05" font-size="12" fill="#131722" text-anchor="end" font-weight="normal" letter-spacing="0.45" >1.06000</text>
<text x="1352.5" y="530.2" font-size="12" fill="#131722" text-anchor="end" font-weight="normal" letter-spacing="0.45" >1.05000</text>
<text x="1352.5" y="562.35" font-size="12" fill="#131722" text-anchor="end" font-weight="normal" letter-spacing="0.45" >1.04000</text>
<text x="1352.5" y="594.5" font-size="12" fill="#131722" text-anchor="end" font-weight="normal" letter-spacing="0.45" >1.03000</text>
<text x="1352.5" y="626.65" font-size="12" fill="#131722" text-anchor="end" font-weight="normal" letter-spacing="0.45" >1.02000</text>
<text x="1352.5" y="658.8" font-size="12" fill="#131722" text-anchor="end" font-weight="normal" letter-spacing="0.45" >1.01000</text>
<text x="63.7" y="703" font-size="12" fill="#131722" text-anchor="middle" font-weight="normal" letter-spacing="0" >Aug</text>
<text x="140.8" y="703" font-size="12" fill="#131722" text-anchor="middle" font-weight="normal" letter-spacing="0" >Sep</text>
<text x="214.7" y="703" font-size="12" fill="#131722" text-anchor="middle" font-weight="normal" letter-spacing="0" >Oct</text>
<text x="295.3" y="703" font-size="12" fill="#131722" text-anchor="middle" font-weight="normal" letter-spacing="0" >Nov</text>
<text x="369.2" y="703" font-size="12" fill="#131722" text-anchor="middle" font-weight="normal" letter-spacing="0" >Dec</text>
<text x="520.3" y="703" font-size="12" fill="#131722" text-anchor="middle" font-weight="normal" letter-spacing="0" >Feb</text>
<text x="590.8" y="703" font-size="12" fill="#131722" text-anchor="middle" font-weight="normal" letter-spacing="0" >Mar</text>
<text x="664.8" y="703" font-size="12" fill="#131722" text-anchor="middle" font-weight="normal" letter-spacing="0" >Apr</text>
<text x="741.9" y="703" font-size="12" fill="#131722" text-anchor="middle" font-weight="normal" letter-spacing="0" >May</text>
<text x="819.2" y="703" font-size="12" fill="#131722" text-anchor="middle" font-weight="normal" letter-spacing="0" >Jun</text>
<text x="892.9" y="703" font-size="12" fill="#131722" text-anchor="middle" font-weight="normal" letter-spacing="0" >Jul</text>
<text x="973.9" y="703" font-size="12" fill="#131722" text-anchor="middle" font-weight="normal" letter-spacing="0" >Aug</text>
<text x="1047.7" y="703" font-size="12" fill="#131722" text-anchor="middle" font-weight="normal" letter-spacing="0" >Sep</text>
<text x="1124.8" y="703" font-size="12" fill="#131722" text-anchor="middle" font-weight="normal" letter-spacing="0" >Oct</text>
<text x="1205.8" y="703" font-size="12" fill="#131722" text-anchor="middle" font-weight="normal" letter-spacing="0" >Nov</text>
<text x="1276" y="703" font-size="12" fill="#131722" text-anchor="middle" font-weight="normal" letter-spacing="0" >Dec</text>
<text x="443" y="703" font-size="12" fill="#131722" text-anchor="middle" font-weight="bold" letter-spacing="1" >2025</text>
<rect x="1296.8" y="232.4" width="61.2" height="17" rx="1" fill="#f7a21b"/>
<text x="1352.5" y="245.4" font-size="12" fill="#1a1200" text-anchor="end" font-weight="normal" letter-spacing="0.45" >1.13860</text>
<text x="25.8" y="18.5" font-size="11.8" fill="#131722" text-anchor="start" font-weight="normal" letter-spacing="0" >Euro / U.S. Dollar · 1D · OANDA</text>
<text x="222.6" y="17.8" font-size="10.7" fill="#131722" text-anchor="start" font-weight="normal" letter-spacing="0" >O</text>
<text x="232" y="17.8" font-size="10.7" fill="#3aa595" text-anchor="start" font-weight="normal" letter-spacing="0.3" >1.15193</text>
<text x="275.9" y="17.8" font-size="10.7" fill="#131722" text-anchor="start" font-weight="normal" letter-spacing="0" >H</text>
<text x="285.5" y="17.8" font-size="10.7" fill="#3aa595" text-anchor="start" font-weight="normal" letter-spacing="0.3" >1.15506</text>
<text x="329.3" y="17.8" font-size="10.7" fill="#131722" text-anchor="start" font-weight="normal" letter-spacing="0" >L</text>
<text x="336.3" y="17.8" font-size="10.7" fill="#3aa595" text-anchor="start" font-weight="normal" letter-spacing="0.3" >1.15019</text>
<text x="380.8" y="17.8" font-size="10.7" fill="#131722" text-anchor="start" font-weight="normal" letter-spacing="0" >C</text>
<text x="390.2" y="17.8" font-size="10.7" fill="#3aa595" text-anchor="start" font-weight="normal" letter-spacing="0.3" >1.15199</text>
<text x="434" y="17.8" font-size="10.7" fill="#131722" text-anchor="start" font-weight="normal" letter-spacing="0" >Vol</text>
<text x="448.1" y="17.8" font-size="10.7" fill="#3aa595" text-anchor="start" font-weight="normal" letter-spacing="0.3" >92.38K</text>
<text x="8.8" y="35.8" font-size="10.3" fill="#131722" text-anchor="start" font-weight="normal" letter-spacing="0" >EMA 50 close</text>
<text x="79.4" y="35.8" font-size="10.5" fill="#5a8bd6" text-anchor="start" font-weight="normal" letter-spacing="0.2" >1.16054</text>
<text x="8.8" y="54.6" font-size="10.4" fill="#131722" text-anchor="start" font-weight="normal" letter-spacing="0" >Supertrend 10 3</text>
<text x="104.2" y="54.6" font-size="10.5" fill="#e06c7a" text-anchor="start" font-weight="normal" letter-spacing="0.2" >1.16518</text>
<text x="1302.6" y="18" font-size="9.6" fill="#2a2e39" text-anchor="start" font-weight="normal" letter-spacing="0" >USD</text>

<clipPath id="usc"><circle cx="17.4" cy="11.4" r="4.3"/></clipPath>
<g clip-path="url(#usc)"><rect x="12" y="6" width="11" height="11" fill="#a3a6c2"/><rect x="12" y="9.6" width="11" height="1.2" fill="#c48a98"/><rect x="12" y="12.2" width="11" height="1.2" fill="#c48a98"/><rect x="12" y="6" width="5" height="4" fill="#7d84b0"/></g>
<circle cx="12.6" cy="16" r="5.7" fill="#fff"/>
<circle cx="12.6" cy="16" r="4.6" fill="#2f68ad"/>
<circle cx="209.1" cy="13.8" r="5.3" fill="#c9ece6"/>
<circle cx="209.1" cy="13.8" r="2.7" fill="#1b8f7d"/>
<g transform="translate(91,46.5)"><circle cx="3" cy="4" r="2.6" fill="none" stroke="#333" stroke-width="0.9"/><line x1="0.5" y1="7" x2="5.5" y2="1" stroke="#333" stroke-width="0.9"/></g>
<rect x="8.5" y="63" width="21" height="15" rx="2" fill="#fff" stroke="#e6e6e6" stroke-width="1"/>
<path d="M15.8 72 L18.8 69 L21.8 72" fill="none" stroke="#131722" stroke-width="1.3"/>
<rect x="1298" y="5" width="62" height="19.5" rx="3" fill="none" stroke="#f0f0f0" stroke-width="1"/>
<path d="M1352 13.6 L1353.8 15.3 L1355.6 13.6" fill="none" stroke="#333" stroke-width="1.1"/>
<path d="M10.1 662.2 H19.5 V673.8 H15 V666.7 H10.1 Z" fill="#000"/>
<circle cx="23.3" cy="664.7" r="1.9" fill="#000"/>
<path d="M28.4 662.3 H33.1 L28.9 673.8 H24.1 Z" fill="#000"/>
<path d="M1327 694.3 H1332.7 L1335.3 698.9 L1332.7 703.5 H1327 L1324.4 698.9 Z" fill="none" stroke="#2a2e39" stroke-width="1.1"/>
<circle cx="1329.8" cy="698.9" r="1.6" fill="none" stroke="#2a2e39" stroke-width="1.1"/>

<rect x="0" y="0" width="1366" height="1.8" fill="#ebebeb"/>
<rect x="0" y="0" width="1.2" height="710" fill="#ededed"/>
<rect x="1362.8" y="0" width="3.2" height="710" fill="#ebebeb"/>
</svg>
</body></html>
